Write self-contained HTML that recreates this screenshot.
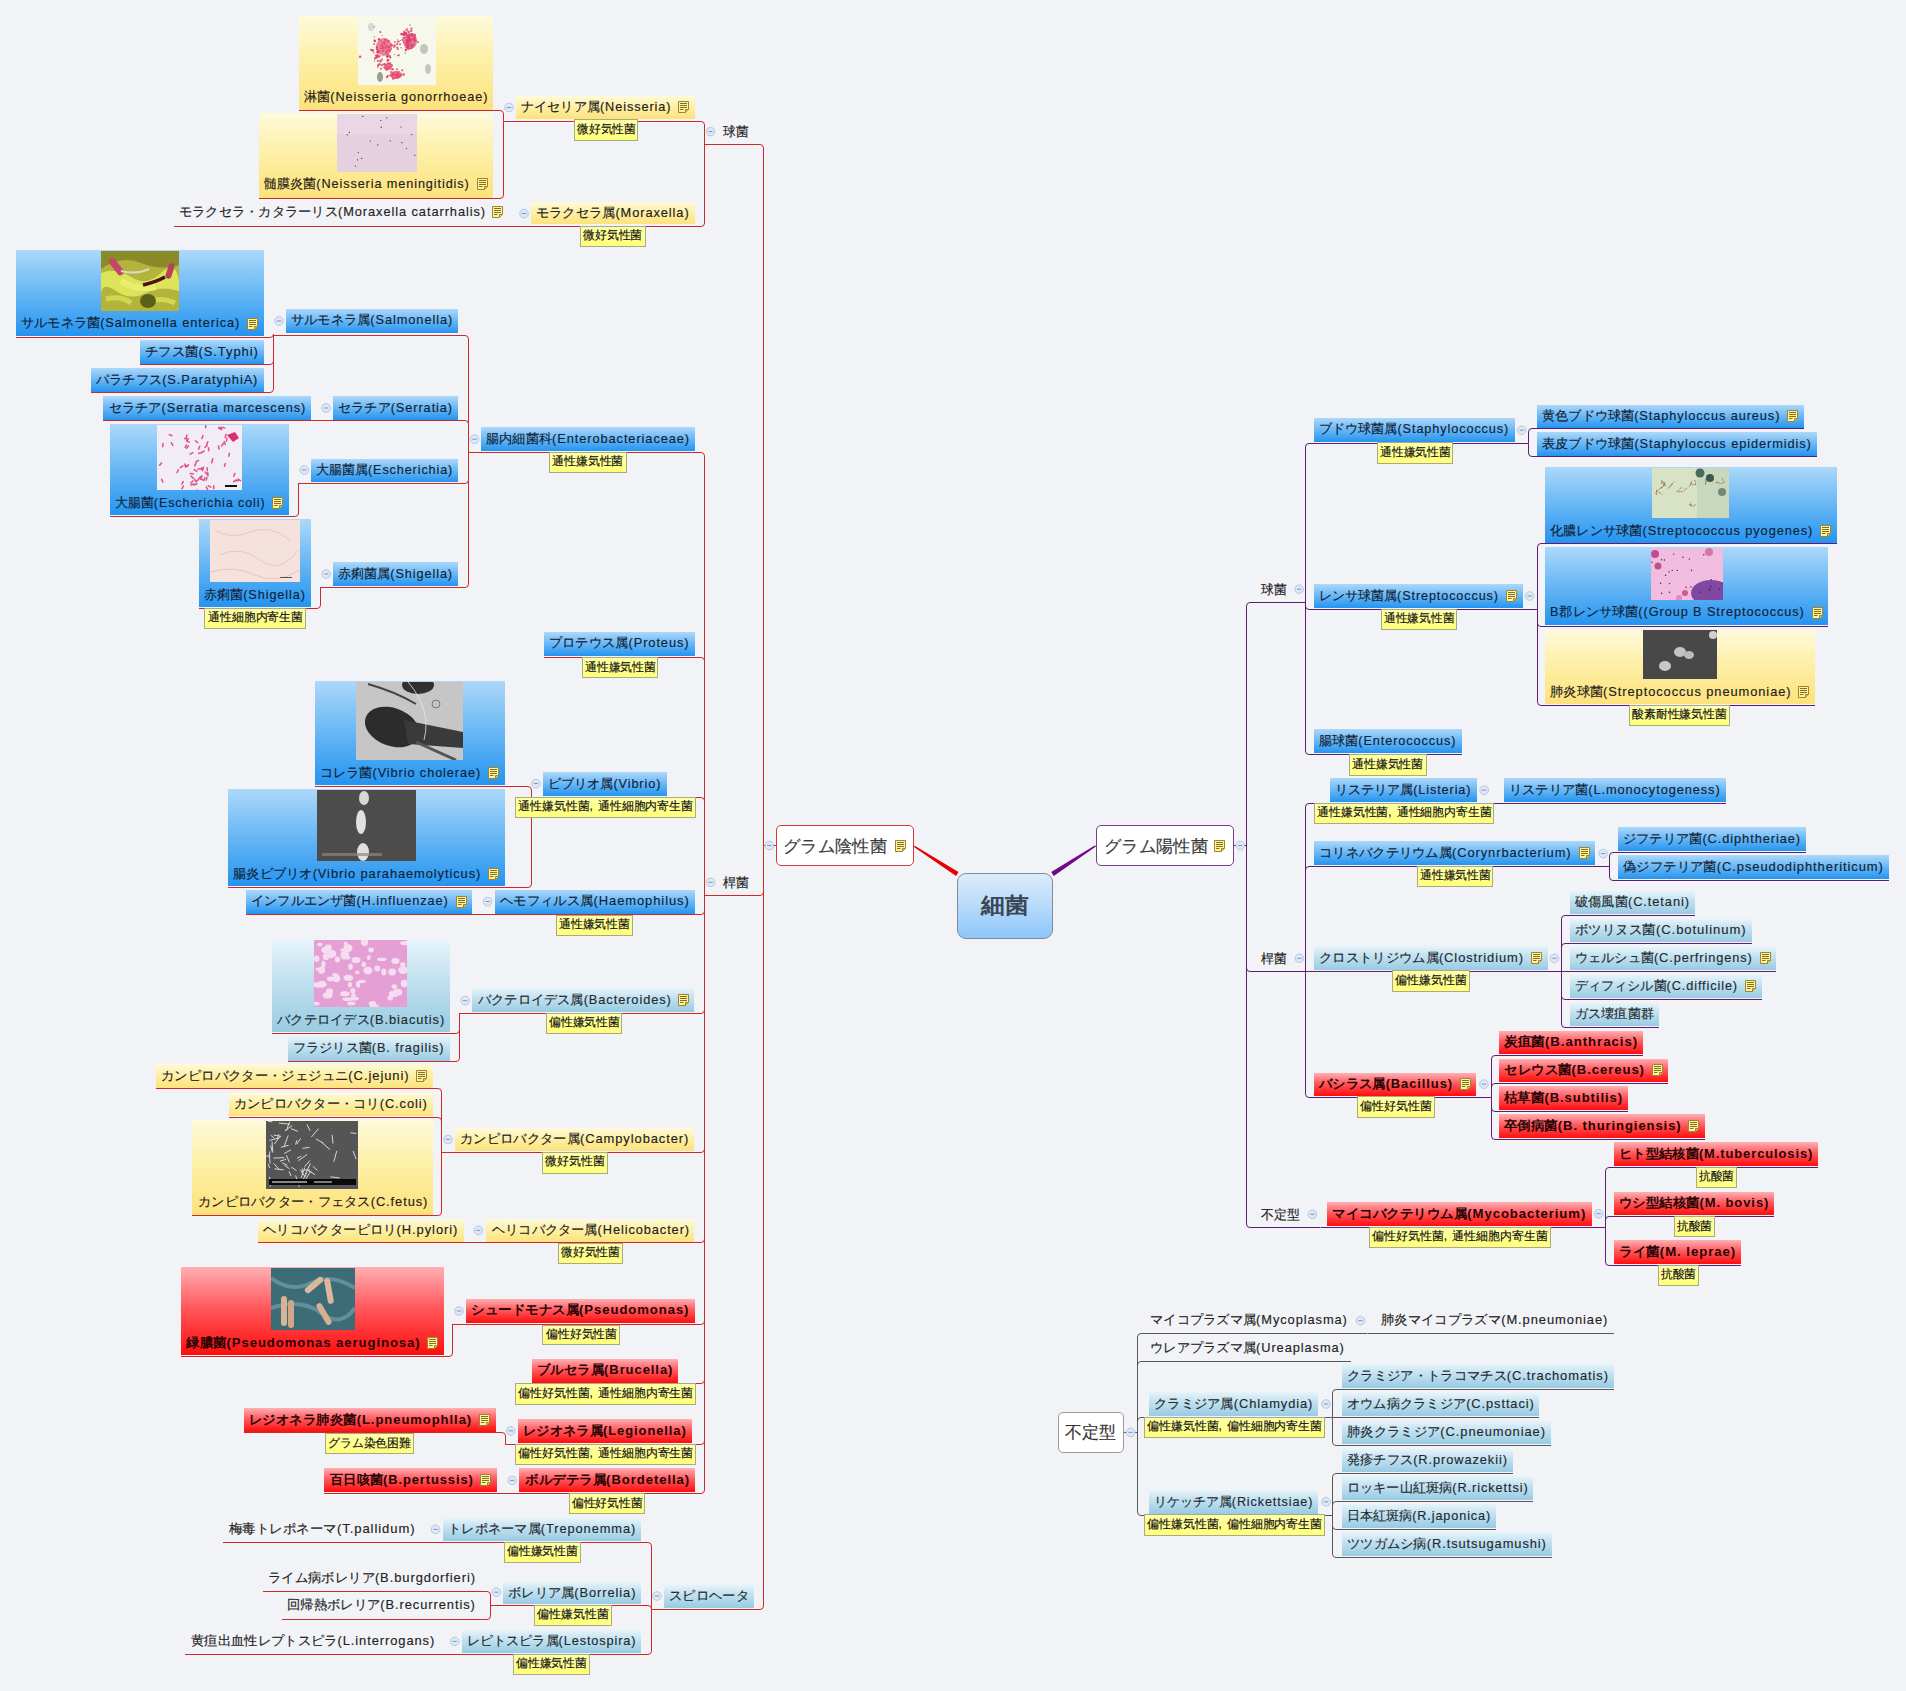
<!DOCTYPE html><html lang="ja"><head><meta charset="utf-8"><style>
html,body{margin:0;padding:0;width:1906px;height:1691px;overflow:hidden;background:#f2f3f7;}body{position:relative;font-family:"Liberation Sans",sans-serif;}.bx,.lb,.mn,.ct,.im,.nt,.tx,.ci{position:absolute;}.lb{background:linear-gradient(to bottom,#ffffa8,#ffff78);border:1px solid #a8a88a;}.mn{background:#fff;border:1.3px solid;border-radius:5px;box-sizing:border-box;}.ct{background:linear-gradient(to bottom,#dcecfc 0%,#b8dafa 50%,#8cc6f8 100%);border:1px solid #7d8c9c;border-radius:9px;box-sizing:border-box;}.tx{white-space:nowrap;transform-origin:0 50%;-webkit-text-stroke:0.15px currentColor;}svg.ln{position:absolute;left:0;top:0;}.l{letter-spacing:0.9px;}
</style></head><body>
<svg class="ln" width="1906" height="1691" viewBox="0 0 1906 1691"><path d="M776 845.5H763" stroke="#d02828" stroke-width="1.0" fill="none"/><path d="M763.5 846.5V148.0Q763.5 144.5 760.0 144.5H704.0" stroke="#d02828" stroke-width="1.0" fill="none"/><path d="M763.5 846.5V892.0Q763.5 895.5 760.0 895.5H704.0" stroke="#d02828" stroke-width="1.0" fill="none"/><path d="M763.5 846.5V1606.0Q763.5 1609.5 760.0 1609.5H652.0" stroke="#d02828" stroke-width="1.0" fill="none"/><path d="M704.5 144.5V125.0Q704.5 121.5 701.0 121.5H504.0" stroke="#d02828" stroke-width="1.0" fill="none"/><path d="M704.5 144.5V223.0Q704.5 226.5 701.0 226.5H517.0" stroke="#d02828" stroke-width="1.0" fill="none"/><path d="M503.5 121.5V114.0Q503.5 110.5 500.0 110.5H299.0" stroke="#d02828" stroke-width="1.0" fill="none"/><path d="M503.5 121.5V195.0Q503.5 198.5 500.0 198.5H259.0" stroke="#d02828" stroke-width="1.0" fill="none"/><path d="M517.5 226.5H174.0" stroke="#d02828" stroke-width="1.0" fill="none"/><path d="M704.5 895.5V456.0Q704.5 452.5 701.0 452.5H468.0" stroke="#d02828" stroke-width="1.0" fill="none"/><path d="M704.5 895.5V661.0Q704.5 657.5 701.0 657.5H544.0" stroke="#d02828" stroke-width="1.0" fill="none"/><path d="M704.5 895.5V801.0Q704.5 797.5 701.0 797.5H531.0" stroke="#d02828" stroke-width="1.0" fill="none"/><path d="M704.5 895.5V911.0Q704.5 914.5 701.0 914.5H480.0" stroke="#d02828" stroke-width="1.0" fill="none"/><path d="M704.5 895.5V1010.0Q704.5 1013.5 701.0 1013.5H459.0" stroke="#d02828" stroke-width="1.0" fill="none"/><path d="M704.5 895.5V1149.0Q704.5 1152.5 701.0 1152.5H441.0" stroke="#d02828" stroke-width="1.0" fill="none"/><path d="M704.5 895.5V1239.0Q704.5 1242.5 701.0 1242.5H470.0" stroke="#d02828" stroke-width="1.0" fill="none"/><path d="M704.5 895.5V1321.0Q704.5 1324.5 701.0 1324.5H452.0" stroke="#d02828" stroke-width="1.0" fill="none"/><path d="M704.5 895.5V1380.0Q704.5 1383.5 701.0 1383.5H532.0" stroke="#d02828" stroke-width="1.0" fill="none"/><path d="M704.5 895.5V1441.0Q704.5 1444.5 701.0 1444.5H505.0" stroke="#d02828" stroke-width="1.0" fill="none"/><path d="M704.5 895.5V1490.0Q704.5 1493.5 701.0 1493.5H505.0" stroke="#d02828" stroke-width="1.0" fill="none"/><path d="M468.5 452.5V339.0Q468.5 335.5 465.0 335.5H273.0" stroke="#d02828" stroke-width="1.0" fill="none"/><path d="M468.5 452.5V424.0Q468.5 420.5 465.0 420.5H318.0" stroke="#d02828" stroke-width="1.0" fill="none"/><path d="M468.5 452.5V480.0Q468.5 483.5 465.0 483.5H298.0" stroke="#d02828" stroke-width="1.0" fill="none"/><path d="M468.5 452.5V584.0Q468.5 587.5 465.0 587.5H320.0" stroke="#d02828" stroke-width="1.0" fill="none"/><path d="M273.5 335.5V334.0Q273.5 337.5 270.0 337.5H16.0" stroke="#d02828" stroke-width="1.0" fill="none"/><path d="M273.5 335.5V361.0Q273.5 364.5 270.0 364.5H140.0" stroke="#d02828" stroke-width="1.0" fill="none"/><path d="M273.5 335.5V389.0Q273.5 392.5 270.0 392.5H91.0" stroke="#d02828" stroke-width="1.0" fill="none"/><path d="M318.5 420.5H103.0" stroke="#d02828" stroke-width="1.0" fill="none"/><path d="M298.5 483.5V513.0Q298.5 516.5 295.0 516.5H110.0" stroke="#d02828" stroke-width="1.0" fill="none"/><path d="M320.5 587.5V605.0Q320.5 608.5 317.0 608.5H199.0" stroke="#d02828" stroke-width="1.0" fill="none"/><path d="M531.5 797.5V790.0Q531.5 786.5 528.0 786.5H315.0" stroke="#d02828" stroke-width="1.0" fill="none"/><path d="M531.5 797.5V884.0Q531.5 887.5 528.0 887.5H228.0" stroke="#d02828" stroke-width="1.0" fill="none"/><path d="M480.5 914.5H246.0" stroke="#d02828" stroke-width="1.0" fill="none"/><path d="M459.5 1013.5V1030.0Q459.5 1033.5 456.0 1033.5H272.0" stroke="#d02828" stroke-width="1.0" fill="none"/><path d="M459.5 1013.5V1058.0Q459.5 1061.5 456.0 1061.5H288.0" stroke="#d02828" stroke-width="1.0" fill="none"/><path d="M441.5 1152.5V1092.0Q441.5 1088.5 438.0 1088.5H156.0" stroke="#d02828" stroke-width="1.0" fill="none"/><path d="M441.5 1152.5V1121.0Q441.5 1117.5 438.0 1117.5H229.0" stroke="#d02828" stroke-width="1.0" fill="none"/><path d="M441.5 1152.5V1212.0Q441.5 1215.5 438.0 1215.5H192.0" stroke="#d02828" stroke-width="1.0" fill="none"/><path d="M470.5 1242.5H258.0" stroke="#d02828" stroke-width="1.0" fill="none"/><path d="M452.5 1324.5V1353.0Q452.5 1356.5 449.0 1356.5H181.0" stroke="#d02828" stroke-width="1.0" fill="none"/><path d="M505.5 1444.5V1436.0Q505.5 1432.5 502.0 1432.5H244.0" stroke="#d02828" stroke-width="1.0" fill="none"/><path d="M505.5 1493.5H324.0" stroke="#d02828" stroke-width="1.0" fill="none"/><path d="M651.5 1609.5V1546.0Q651.5 1542.5 648.0 1542.5H428.0" stroke="#d02828" stroke-width="1.0" fill="none"/><path d="M651.5 1609.5V1609.0Q651.5 1605.5 648.0 1605.5H490.0" stroke="#d02828" stroke-width="1.0" fill="none"/><path d="M651.5 1609.5V1651.0Q651.5 1654.5 648.0 1654.5H447.0" stroke="#d02828" stroke-width="1.0" fill="none"/><path d="M428.5 1542.5H223.0" stroke="#d02828" stroke-width="1.0" fill="none"/><path d="M490.5 1605.5V1595.0Q490.5 1591.5 487.0 1591.5H263.0" stroke="#d02828" stroke-width="1.0" fill="none"/><path d="M490.5 1605.5V1616.0Q490.5 1619.5 487.0 1619.5H282.0" stroke="#d02828" stroke-width="1.0" fill="none"/><path d="M447.5 1654.5H185.0" stroke="#d02828" stroke-width="1.0" fill="none"/><path d="M1233 845.5H1246.5" stroke="#5e1d70" stroke-width="1.0" fill="none"/><path d="M1246.5 845.5V606.0Q1246.5 602.5 1250.0 602.5H1306.0" stroke="#5e1d70" stroke-width="1.0" fill="none"/><path d="M1246.5 845.5V968.0Q1246.5 971.5 1250.0 971.5H1306.0" stroke="#5e1d70" stroke-width="1.0" fill="none"/><path d="M1246.5 845.5V1224.0Q1246.5 1227.5 1250.0 1227.5H1320.0" stroke="#5e1d70" stroke-width="1.0" fill="none"/><path d="M1305.5 602.5V447.0Q1305.5 443.5 1309.0 443.5H1528.0" stroke="#5e1d70" stroke-width="1.0" fill="none"/><path d="M1305.5 602.5V606.0Q1305.5 609.5 1309.0 609.5H1537.0" stroke="#5e1d70" stroke-width="1.0" fill="none"/><path d="M1305.5 602.5V751.0Q1305.5 754.5 1309.0 754.5H1462.0" stroke="#5e1d70" stroke-width="1.0" fill="none"/><path d="M1528.5 443.5V432.0Q1528.5 428.5 1532.0 428.5H1804.0" stroke="#5e1d70" stroke-width="1.0" fill="none"/><path d="M1528.5 443.5V453.0Q1528.5 456.5 1532.0 456.5H1817.0" stroke="#5e1d70" stroke-width="1.0" fill="none"/><path d="M1537.5 609.5V547.0Q1537.5 543.5 1541.0 543.5H1837.0" stroke="#5e1d70" stroke-width="1.0" fill="none"/><path d="M1537.5 609.5V623.0Q1537.5 626.5 1541.0 626.5H1828.0" stroke="#5e1d70" stroke-width="1.0" fill="none"/><path d="M1537.5 609.5V702.0Q1537.5 705.5 1541.0 705.5H1815.0" stroke="#5e1d70" stroke-width="1.0" fill="none"/><path d="M1305.5 971.5V807.0Q1305.5 803.5 1309.0 803.5H1491.0" stroke="#5e1d70" stroke-width="1.0" fill="none"/><path d="M1305.5 971.5V870.0Q1305.5 866.5 1309.0 866.5H1610.0" stroke="#5e1d70" stroke-width="1.0" fill="none"/><path d="M1305.5 971.5H1562.0" stroke="#5e1d70" stroke-width="1.0" fill="none"/><path d="M1305.5 971.5V1094.0Q1305.5 1097.5 1309.0 1097.5H1491.0" stroke="#5e1d70" stroke-width="1.0" fill="none"/><path d="M1491.5 803.5H1726.0" stroke="#5e1d70" stroke-width="1.0" fill="none"/><path d="M1609.5 866.5V856.0Q1609.5 852.5 1613.0 852.5H1806.0" stroke="#5e1d70" stroke-width="1.0" fill="none"/><path d="M1609.5 866.5V877.0Q1609.5 880.5 1613.0 880.5H1889.0" stroke="#5e1d70" stroke-width="1.0" fill="none"/><path d="M1561.5 971.5V919.0Q1561.5 915.5 1565.0 915.5H1695.0" stroke="#5e1d70" stroke-width="1.0" fill="none"/><path d="M1561.5 971.5V947.0Q1561.5 943.5 1565.0 943.5H1752.0" stroke="#5e1d70" stroke-width="1.0" fill="none"/><path d="M1561.5 971.5H1776.0" stroke="#5e1d70" stroke-width="1.0" fill="none"/><path d="M1561.5 971.5V996.0Q1561.5 999.5 1565.0 999.5H1762.0" stroke="#5e1d70" stroke-width="1.0" fill="none"/><path d="M1561.5 971.5V1024.0Q1561.5 1027.5 1565.0 1027.5H1659.0" stroke="#5e1d70" stroke-width="1.0" fill="none"/><path d="M1491.5 1097.5V1059.0Q1491.5 1055.5 1495.0 1055.5H1643.0" stroke="#5e1d70" stroke-width="1.0" fill="none"/><path d="M1491.5 1097.5V1087.0Q1491.5 1083.5 1495.0 1083.5H1668.0" stroke="#5e1d70" stroke-width="1.0" fill="none"/><path d="M1491.5 1097.5V1108.0Q1491.5 1111.5 1495.0 1111.5H1628.0" stroke="#5e1d70" stroke-width="1.0" fill="none"/><path d="M1491.5 1097.5V1136.0Q1491.5 1139.5 1495.0 1139.5H1705.0" stroke="#5e1d70" stroke-width="1.0" fill="none"/><path d="M1320.5 1227.5H1605.0" stroke="#5e1d70" stroke-width="1.0" fill="none"/><path d="M1605.5 1227.5V1171.0Q1605.5 1167.5 1609.0 1167.5H1818.0" stroke="#5e1d70" stroke-width="1.0" fill="none"/><path d="M1605.5 1227.5V1220.0Q1605.5 1216.5 1609.0 1216.5H1774.0" stroke="#5e1d70" stroke-width="1.0" fill="none"/><path d="M1605.5 1227.5V1262.0Q1605.5 1265.5 1609.0 1265.5H1741.0" stroke="#5e1d70" stroke-width="1.0" fill="none"/><path d="M1123 1432.5H1137.5" stroke="#585858" stroke-width="1.0" fill="none"/><path d="M1137.5 1432.5V1337.0Q1137.5 1333.5 1141.0 1333.5H1367.0" stroke="#585858" stroke-width="1.0" fill="none"/><path d="M1137.5 1432.5V1365.0Q1137.5 1361.5 1141.0 1361.5H1351.0" stroke="#585858" stroke-width="1.0" fill="none"/><path d="M1137.5 1432.5V1421.0Q1137.5 1417.5 1141.0 1417.5H1332.0" stroke="#585858" stroke-width="1.0" fill="none"/><path d="M1137.5 1432.5V1512.0Q1137.5 1515.5 1141.0 1515.5H1332.0" stroke="#585858" stroke-width="1.0" fill="none"/><path d="M1367.5 1333.5H1614.0" stroke="#585858" stroke-width="1.0" fill="none"/><path d="M1332.5 1417.5V1393.0Q1332.5 1389.5 1336.0 1389.5H1614.0" stroke="#585858" stroke-width="1.0" fill="none"/><path d="M1332.5 1417.5H1539.0" stroke="#585858" stroke-width="1.0" fill="none"/><path d="M1332.5 1417.5V1442.0Q1332.5 1445.5 1336.0 1445.5H1551.0" stroke="#585858" stroke-width="1.0" fill="none"/><path d="M1332.5 1515.5V1477.0Q1332.5 1473.5 1336.0 1473.5H1513.0" stroke="#585858" stroke-width="1.0" fill="none"/><path d="M1332.5 1515.5V1505.0Q1332.5 1501.5 1336.0 1501.5H1533.0" stroke="#585858" stroke-width="1.0" fill="none"/><path d="M1332.5 1515.5V1526.0Q1332.5 1529.5 1336.0 1529.5H1496.0" stroke="#585858" stroke-width="1.0" fill="none"/><path d="M1332.5 1515.5V1554.0Q1332.5 1557.5 1336.0 1557.5H1552.0" stroke="#585858" stroke-width="1.0" fill="none"/><path d="M913.9 847.0L914.7 845.8L958.5 872.1L956.1 875.9Z" fill="#e40000"/><path d="M1095.9 846.5L1095.1 845.3L1051.2 872.1L1053.8 875.9Z" fill="#6e0a86"/><circle cx="769.3" cy="845.5" r="4.3" fill="#dfe8f7" stroke="#b4c6e2" stroke-width="1"/><path d="M767.1 845.5H771.5" stroke="#7f93c0" stroke-width="1"/><circle cx="710.6" cy="131.6" r="4.3" fill="#dfe8f7" stroke="#b4c6e2" stroke-width="1"/><path d="M708.4 131.6H712.8" stroke="#7f93c0" stroke-width="1"/><circle cx="509.0" cy="107.5" r="4.3" fill="#dfe8f7" stroke="#b4c6e2" stroke-width="1"/><path d="M506.8 107.5H511.2" stroke="#7f93c0" stroke-width="1"/><circle cx="524.0" cy="213.5" r="4.3" fill="#dfe8f7" stroke="#b4c6e2" stroke-width="1"/><path d="M521.8 213.5H526.2" stroke="#7f93c0" stroke-width="1"/><circle cx="710.6" cy="882.3" r="4.3" fill="#dfe8f7" stroke="#b4c6e2" stroke-width="1"/><path d="M708.4 882.3H712.8" stroke="#7f93c0" stroke-width="1"/><circle cx="474.5" cy="439.2" r="4.3" fill="#dfe8f7" stroke="#b4c6e2" stroke-width="1"/><path d="M472.3 439.2H476.7" stroke="#7f93c0" stroke-width="1"/><circle cx="279.0" cy="321.0" r="4.3" fill="#dfe8f7" stroke="#b4c6e2" stroke-width="1"/><path d="M276.8 321.0H281.2" stroke="#7f93c0" stroke-width="1"/><circle cx="326.0" cy="408.0" r="4.3" fill="#dfe8f7" stroke="#b4c6e2" stroke-width="1"/><path d="M323.8 408.0H328.2" stroke="#7f93c0" stroke-width="1"/><circle cx="304.3" cy="470.0" r="4.3" fill="#dfe8f7" stroke="#b4c6e2" stroke-width="1"/><path d="M302.1 470.0H306.5" stroke="#7f93c0" stroke-width="1"/><circle cx="326.2" cy="574.0" r="4.3" fill="#dfe8f7" stroke="#b4c6e2" stroke-width="1"/><path d="M324.0 574.0H328.4" stroke="#7f93c0" stroke-width="1"/><circle cx="536.0" cy="783.6" r="4.3" fill="#dfe8f7" stroke="#b4c6e2" stroke-width="1"/><path d="M533.8 783.6H538.2" stroke="#7f93c0" stroke-width="1"/><circle cx="487.6" cy="901.5" r="4.3" fill="#dfe8f7" stroke="#b4c6e2" stroke-width="1"/><path d="M485.4 901.5H489.8" stroke="#7f93c0" stroke-width="1"/><circle cx="465.0" cy="1000.6" r="4.3" fill="#dfe8f7" stroke="#b4c6e2" stroke-width="1"/><path d="M462.8 1000.6H467.2" stroke="#7f93c0" stroke-width="1"/><circle cx="448.0" cy="1139.4" r="4.3" fill="#dfe8f7" stroke="#b4c6e2" stroke-width="1"/><path d="M445.8 1139.4H450.2" stroke="#7f93c0" stroke-width="1"/><circle cx="478.4" cy="1230.4" r="4.3" fill="#dfe8f7" stroke="#b4c6e2" stroke-width="1"/><path d="M476.2 1230.4H480.6" stroke="#7f93c0" stroke-width="1"/><circle cx="459.0" cy="1311.0" r="4.3" fill="#dfe8f7" stroke="#b4c6e2" stroke-width="1"/><path d="M456.8 1311.0H461.2" stroke="#7f93c0" stroke-width="1"/><circle cx="510.8" cy="1430.8" r="4.3" fill="#dfe8f7" stroke="#b4c6e2" stroke-width="1"/><path d="M508.6 1430.8H513.0" stroke="#7f93c0" stroke-width="1"/><circle cx="512.2" cy="1480.4" r="4.3" fill="#dfe8f7" stroke="#b4c6e2" stroke-width="1"/><path d="M510.0 1480.4H514.4" stroke="#7f93c0" stroke-width="1"/><circle cx="657.0" cy="1596.0" r="4.3" fill="#dfe8f7" stroke="#b4c6e2" stroke-width="1"/><path d="M654.8 1596.0H659.2" stroke="#7f93c0" stroke-width="1"/><circle cx="435.6" cy="1529.4" r="4.3" fill="#dfe8f7" stroke="#b4c6e2" stroke-width="1"/><path d="M433.4 1529.4H437.8" stroke="#7f93c0" stroke-width="1"/><circle cx="496.4" cy="1592.2" r="4.3" fill="#dfe8f7" stroke="#b4c6e2" stroke-width="1"/><path d="M494.2 1592.2H498.6" stroke="#7f93c0" stroke-width="1"/><circle cx="454.8" cy="1641.4" r="4.3" fill="#dfe8f7" stroke="#b4c6e2" stroke-width="1"/><path d="M452.6 1641.4H457.0" stroke="#7f93c0" stroke-width="1"/><circle cx="1240.2" cy="845.5" r="4.3" fill="#dfe8f7" stroke="#b4c6e2" stroke-width="1"/><path d="M1238.0 845.5H1242.4" stroke="#7f93c0" stroke-width="1"/><circle cx="1299.2" cy="589.2" r="4.3" fill="#dfe8f7" stroke="#b4c6e2" stroke-width="1"/><path d="M1297.0 589.2H1301.4" stroke="#7f93c0" stroke-width="1"/><circle cx="1521.6" cy="430.2" r="4.3" fill="#dfe8f7" stroke="#b4c6e2" stroke-width="1"/><path d="M1519.4 430.2H1523.8" stroke="#7f93c0" stroke-width="1"/><circle cx="1529.6" cy="596.0" r="4.3" fill="#dfe8f7" stroke="#b4c6e2" stroke-width="1"/><path d="M1527.4 596.0H1531.8" stroke="#7f93c0" stroke-width="1"/><circle cx="1299.4" cy="958.3" r="4.3" fill="#dfe8f7" stroke="#b4c6e2" stroke-width="1"/><path d="M1297.2 958.3H1301.6" stroke="#7f93c0" stroke-width="1"/><circle cx="1484.2" cy="790.2" r="4.3" fill="#dfe8f7" stroke="#b4c6e2" stroke-width="1"/><path d="M1482.0 790.2H1486.4" stroke="#7f93c0" stroke-width="1"/><circle cx="1603.2" cy="853.6" r="4.3" fill="#dfe8f7" stroke="#b4c6e2" stroke-width="1"/><path d="M1601.0 853.6H1605.4" stroke="#7f93c0" stroke-width="1"/><circle cx="1554.5" cy="958.3" r="4.3" fill="#dfe8f7" stroke="#b4c6e2" stroke-width="1"/><path d="M1552.3 958.3H1556.7" stroke="#7f93c0" stroke-width="1"/><circle cx="1483.9" cy="1084.1" r="4.3" fill="#dfe8f7" stroke="#b4c6e2" stroke-width="1"/><path d="M1481.7 1084.1H1486.1" stroke="#7f93c0" stroke-width="1"/><circle cx="1312.4" cy="1214.3" r="4.3" fill="#dfe8f7" stroke="#b4c6e2" stroke-width="1"/><path d="M1310.2 1214.3H1314.6" stroke="#7f93c0" stroke-width="1"/><circle cx="1598.8" cy="1213.7" r="4.3" fill="#dfe8f7" stroke="#b4c6e2" stroke-width="1"/><path d="M1596.6 1213.7H1601.0" stroke="#7f93c0" stroke-width="1"/><circle cx="1130.6" cy="1432.4" r="4.3" fill="#dfe8f7" stroke="#b4c6e2" stroke-width="1"/><path d="M1128.4 1432.4H1132.8" stroke="#7f93c0" stroke-width="1"/><circle cx="1360.4" cy="1320.7" r="4.3" fill="#dfe8f7" stroke="#b4c6e2" stroke-width="1"/><path d="M1358.2 1320.7H1362.6" stroke="#7f93c0" stroke-width="1"/><circle cx="1326.0" cy="1404.0" r="4.3" fill="#dfe8f7" stroke="#b4c6e2" stroke-width="1"/><path d="M1323.8 1404.0H1328.2" stroke="#7f93c0" stroke-width="1"/><circle cx="1326.0" cy="1501.8" r="4.3" fill="#dfe8f7" stroke="#b4c6e2" stroke-width="1"/><path d="M1323.8 1501.8H1328.2" stroke="#7f93c0" stroke-width="1"/></svg>
<div class="mn" style="left:776px;top:825px;width:138px;height:41px;border-color:#d83a3a"></div>
<svg class="nt" style="left:895px;top:840px" width="12" height="13" viewBox="0 0 12 13"><path d="M0.5 0.5H10.5V8.5L7.5 11.5H0.5Z" fill="#fff2a0" stroke="#a08428" stroke-width="1"/><path d="M2 2.5H9M2 4.5H9M2 6.5H9M2 8.5H5.5" stroke="#807020" stroke-width="1"/><path d="M7.5 11.5V8.5H10.5" fill="#e0c860" stroke="#a08428" stroke-width="1"/></svg>
<div class="bx" style="left:516px;top:96px;width:179px;height:23px;background:linear-gradient(to bottom,#fefadc 0%,#fdf0a8 45%,#fde27c 100%)"></div>
<svg class="nt" style="left:678px;top:101px" width="12" height="13" viewBox="0 0 12 13"><path d="M0.5 0.5H10.5V8.5L7.5 11.5H0.5Z" fill="#fff2a0" stroke="#a08428" stroke-width="1"/><path d="M2 2.5H9M2 4.5H9M2 6.5H9M2 8.5H5.5" stroke="#807020" stroke-width="1"/><path d="M7.5 11.5V8.5H10.5" fill="#e0c860" stroke="#a08428" stroke-width="1"/></svg>
<div class="lb" style="left:574px;top:119px;width:62px;height:20px"></div>
<div class="bx" style="left:299px;top:16px;width:194px;height:94px;background:linear-gradient(to bottom,#fefadc 0%,#fdf0a8 45%,#fde27c 100%)"></div>
<svg class="im" style="left:358px;top:17px" width="78" height="68" viewBox="0 0 78 68" preserveAspectRatio="none"><rect width="78" height="68" fill="#f6f8ee"/><circle cx="16.9" cy="24.0" r="1.2" fill="#d83058" opacity=".8"/><circle cx="33.2" cy="27.9" r="1.3" fill="#d83058" opacity=".8"/><circle cx="30.6" cy="33.4" r="1.4" fill="#d83058" opacity=".8"/><circle cx="16.3" cy="19.9" r="0.7" fill="#d83058" opacity=".8"/><circle cx="19.6" cy="33.0" r="1.0" fill="#d83058" opacity=".8"/><circle cx="23.1" cy="31.5" r="0.8" fill="#d83058" opacity=".8"/><circle cx="21.5" cy="47.3" r="1.2" fill="#d83058" opacity=".8"/><circle cx="29.8" cy="42.5" r="0.7" fill="#d83058" opacity=".8"/><circle cx="21.7" cy="29.5" r="0.6" fill="#d83058" opacity=".8"/><circle cx="26.8" cy="28.5" r="0.8" fill="#d83058" opacity=".8"/><circle cx="36.1" cy="30.4" r="0.8" fill="#d83058" opacity=".8"/><circle cx="31.3" cy="29.9" r="1.1" fill="#d83058" opacity=".8"/><circle cx="28.0" cy="48.0" r="1.2" fill="#d83058" opacity=".8"/><circle cx="36.4" cy="28.9" r="0.8" fill="#d83058" opacity=".8"/><circle cx="21.7" cy="35.2" r="0.7" fill="#d83058" opacity=".8"/><circle cx="28.7" cy="34.4" r="1.1" fill="#d83058" opacity=".8"/><circle cx="33.0" cy="32.2" r="0.9" fill="#d83058" opacity=".8"/><circle cx="19.9" cy="44.0" r="1.0" fill="#d83058" opacity=".8"/><circle cx="21.2" cy="39.3" r="1.2" fill="#d83058" opacity=".8"/><circle cx="39.3" cy="38.7" r="0.6" fill="#d83058" opacity=".8"/><circle cx="24.0" cy="18.5" r="0.6" fill="#d83058" opacity=".8"/><circle cx="25.3" cy="25.5" r="1.1" fill="#d83058" opacity=".8"/><circle cx="25.9" cy="32.1" r="0.7" fill="#d83058" opacity=".8"/><circle cx="27.8" cy="30.7" r="1.2" fill="#d83058" opacity=".8"/><circle cx="36.9" cy="24.9" r="0.9" fill="#d83058" opacity=".8"/><circle cx="19.5" cy="38.8" r="1.2" fill="#d83058" opacity=".8"/><circle cx="31.8" cy="39.3" r="1.2" fill="#d83058" opacity=".8"/><circle cx="25.0" cy="30.5" r="1.4" fill="#d83058" opacity=".8"/><circle cx="28.6" cy="35.5" r="1.1" fill="#d83058" opacity=".8"/><circle cx="28.8" cy="28.9" r="1.3" fill="#d83058" opacity=".8"/><circle cx="19.0" cy="30.3" r="0.9" fill="#d83058" opacity=".8"/><circle cx="25.1" cy="34.5" r="0.7" fill="#d83058" opacity=".8"/><circle cx="16.4" cy="10.0" r="0.7" fill="#d83058" opacity=".8"/><circle cx="40.8" cy="38.2" r="1.0" fill="#d83058" opacity=".8"/><circle cx="20.3" cy="34.9" r="1.1" fill="#d83058" opacity=".8"/><circle cx="27.1" cy="25.1" r="0.9" fill="#d83058" opacity=".8"/><circle cx="36.5" cy="37.3" r="0.6" fill="#d83058" opacity=".8"/><circle cx="12.6" cy="32.5" r="0.7" fill="#d83058" opacity=".8"/><circle cx="22.3" cy="15.0" r="1.1" fill="#d83058" opacity=".8"/><circle cx="24.7" cy="28.8" r="0.9" fill="#d83058" opacity=".8"/><circle cx="30.9" cy="42.9" r="0.8" fill="#d83058" opacity=".8"/><circle cx="2.1" cy="39.7" r="1.3" fill="#d83058" opacity=".8"/><circle cx="30.5" cy="30.8" r="1.0" fill="#d83058" opacity=".8"/><circle cx="23.1" cy="24.1" r="0.8" fill="#d83058" opacity=".8"/><circle cx="21.2" cy="34.2" r="0.9" fill="#d83058" opacity=".8"/><circle cx="39.2" cy="30.7" r="1.1" fill="#d83058" opacity=".8"/><circle cx="18.5" cy="32.0" r="0.7" fill="#d83058" opacity=".8"/><circle cx="22.5" cy="44.1" r="1.3" fill="#d83058" opacity=".8"/><circle cx="17.2" cy="41.4" r="1.2" fill="#d83058" opacity=".8"/><circle cx="21.0" cy="22.3" r="1.2" fill="#d83058" opacity=".8"/><circle cx="17.9" cy="40.3" r="0.8" fill="#d83058" opacity=".8"/><circle cx="13.8" cy="33.1" r="1.2" fill="#d83058" opacity=".8"/><circle cx="20.1" cy="48.3" r="1.1" fill="#d83058" opacity=".8"/><circle cx="23.2" cy="31.5" r="1.0" fill="#d83058" opacity=".8"/><circle cx="24.0" cy="42.4" r="1.0" fill="#d83058" opacity=".8"/><circle cx="27.5" cy="22.8" r="1.2" fill="#d83058" opacity=".8"/><circle cx="19.0" cy="40.2" r="1.2" fill="#d83058" opacity=".8"/><circle cx="26.6" cy="26.3" r="1.3" fill="#d83058" opacity=".8"/><circle cx="30.3" cy="24.2" r="1.4" fill="#d83058" opacity=".8"/><circle cx="31.0" cy="29.7" r="1.0" fill="#d83058" opacity=".8"/><circle cx="29.7" cy="43.5" r="1.3" fill="#d83058" opacity=".8"/><circle cx="14.9" cy="33.5" r="1.2" fill="#d83058" opacity=".8"/><circle cx="23.5" cy="27.7" r="1.2" fill="#d83058" opacity=".8"/><circle cx="16.2" cy="27.0" r="0.9" fill="#d83058" opacity=".8"/><circle cx="16.6" cy="23.5" r="1.1" fill="#d83058" opacity=".8"/><circle cx="23.7" cy="30.4" r="0.7" fill="#d83058" opacity=".8"/><circle cx="15.9" cy="35.7" r="0.8" fill="#d83058" opacity=".8"/><circle cx="20.7" cy="22.9" r="0.6" fill="#d83058" opacity=".8"/><circle cx="19.8" cy="32.9" r="0.6" fill="#d83058" opacity=".8"/><circle cx="27.5" cy="36.6" r="0.7" fill="#d83058" opacity=".8"/><circle cx="24.6" cy="33.8" r="1.0" fill="#d83058" opacity=".8"/><circle cx="18.0" cy="38.6" r="1.1" fill="#d83058" opacity=".8"/><circle cx="25.0" cy="47.1" r="0.6" fill="#d83058" opacity=".8"/><circle cx="20.0" cy="35.2" r="0.9" fill="#d83058" opacity=".8"/><circle cx="32.5" cy="40.7" r="0.9" fill="#d83058" opacity=".8"/><circle cx="32.1" cy="34.2" r="0.7" fill="#d83058" opacity=".8"/><circle cx="18.8" cy="30.2" r="1.1" fill="#d83058" opacity=".8"/><circle cx="34.7" cy="28.7" r="0.9" fill="#d83058" opacity=".8"/><circle cx="27.3" cy="22.7" r="0.9" fill="#d83058" opacity=".8"/><circle cx="29.1" cy="39.3" r="1.1" fill="#d83058" opacity=".8"/><circle cx="39.2" cy="27.1" r="1.1" fill="#d83058" opacity=".8"/><circle cx="16.5" cy="43.9" r="0.6" fill="#d83058" opacity=".8"/><circle cx="30.0" cy="37.7" r="1.1" fill="#d83058" opacity=".8"/><circle cx="29.4" cy="39.6" r="1.3" fill="#d83058" opacity=".8"/><circle cx="19.5" cy="37.2" r="0.8" fill="#d83058" opacity=".8"/><circle cx="19.9" cy="50.1" r="0.9" fill="#d83058" opacity=".8"/><circle cx="36.9" cy="28.3" r="1.1" fill="#d83058" opacity=".8"/><circle cx="23.0" cy="51.7" r="1.0" fill="#d83058" opacity=".8"/><circle cx="19.5" cy="35.1" r="1.4" fill="#d83058" opacity=".8"/><circle cx="19.1" cy="32.3" r="1.0" fill="#d83058" opacity=".8"/><circle cx="54.5" cy="28.3" r="1.0" fill="#d83058" opacity=".8"/><circle cx="47.9" cy="32.9" r="1.3" fill="#d83058" opacity=".8"/><circle cx="55.5" cy="22.7" r="0.8" fill="#d83058" opacity=".8"/><circle cx="57.2" cy="17.5" r="0.8" fill="#d83058" opacity=".8"/><circle cx="49.7" cy="25.7" r="1.4" fill="#d83058" opacity=".8"/><circle cx="48.3" cy="30.6" r="1.0" fill="#d83058" opacity=".8"/><circle cx="46.2" cy="15.0" r="1.2" fill="#d83058" opacity=".8"/><circle cx="55.6" cy="29.4" r="0.8" fill="#d83058" opacity=".8"/><circle cx="46.0" cy="20.8" r="0.8" fill="#d83058" opacity=".8"/><circle cx="45.1" cy="20.6" r="0.9" fill="#d83058" opacity=".8"/><circle cx="49.8" cy="13.3" r="0.6" fill="#d83058" opacity=".8"/><circle cx="49.9" cy="29.2" r="1.3" fill="#d83058" opacity=".8"/><circle cx="54.3" cy="16.7" r="0.6" fill="#d83058" opacity=".8"/><circle cx="50.8" cy="15.2" r="1.1" fill="#d83058" opacity=".8"/><circle cx="48.3" cy="13.1" r="1.0" fill="#d83058" opacity=".8"/><circle cx="53.8" cy="18.6" r="0.9" fill="#d83058" opacity=".8"/><circle cx="51.8" cy="18.6" r="0.8" fill="#d83058" opacity=".8"/><circle cx="50.8" cy="19.9" r="1.3" fill="#d83058" opacity=".8"/><circle cx="48.4" cy="15.5" r="0.8" fill="#d83058" opacity=".8"/><circle cx="51.9" cy="8.0" r="0.7" fill="#d83058" opacity=".8"/><circle cx="44.4" cy="23.1" r="1.0" fill="#d83058" opacity=".8"/><circle cx="48.7" cy="25.3" r="1.1" fill="#d83058" opacity=".8"/><circle cx="50.6" cy="19.7" r="0.8" fill="#d83058" opacity=".8"/><circle cx="53.4" cy="11.6" r="1.1" fill="#d83058" opacity=".8"/><circle cx="57.1" cy="23.7" r="1.4" fill="#d83058" opacity=".8"/><circle cx="57.0" cy="21.9" r="0.6" fill="#d83058" opacity=".8"/><circle cx="51.7" cy="18.2" r="1.1" fill="#d83058" opacity=".8"/><circle cx="56.8" cy="19.0" r="0.7" fill="#d83058" opacity=".8"/><circle cx="47.3" cy="36.0" r="0.7" fill="#d83058" opacity=".8"/><circle cx="46.4" cy="17.7" r="0.7" fill="#d83058" opacity=".8"/><circle cx="49.0" cy="20.7" r="0.7" fill="#d83058" opacity=".8"/><circle cx="48.7" cy="23.7" r="0.6" fill="#d83058" opacity=".8"/><circle cx="43.4" cy="17.1" r="1.3" fill="#d83058" opacity=".8"/><circle cx="53.2" cy="27.2" r="0.9" fill="#d83058" opacity=".8"/><circle cx="45.8" cy="17.6" r="1.4" fill="#d83058" opacity=".8"/><circle cx="48.9" cy="23.6" r="1.2" fill="#d83058" opacity=".8"/><circle cx="53.7" cy="29.5" r="1.0" fill="#d83058" opacity=".8"/><circle cx="54.8" cy="17.6" r="1.1" fill="#d83058" opacity=".8"/><circle cx="49.5" cy="30.2" r="0.8" fill="#d83058" opacity=".8"/><circle cx="50.0" cy="14.2" r="0.7" fill="#d83058" opacity=".8"/><circle cx="50.4" cy="28.2" r="1.2" fill="#d83058" opacity=".8"/><circle cx="53.1" cy="31.3" r="1.1" fill="#d83058" opacity=".8"/><circle cx="55.7" cy="26.9" r="0.7" fill="#d83058" opacity=".8"/><circle cx="54.3" cy="28.2" r="0.8" fill="#d83058" opacity=".8"/><circle cx="53.7" cy="16.8" r="0.9" fill="#d83058" opacity=".8"/><circle cx="50.3" cy="20.5" r="1.2" fill="#d83058" opacity=".8"/><circle cx="52.4" cy="23.2" r="1.4" fill="#d83058" opacity=".8"/><circle cx="48.7" cy="17.8" r="0.7" fill="#d83058" opacity=".8"/><circle cx="56.6" cy="20.4" r="1.3" fill="#d83058" opacity=".8"/><circle cx="54.0" cy="29.0" r="0.9" fill="#d83058" opacity=".8"/><circle cx="50.4" cy="27.8" r="1.1" fill="#d83058" opacity=".8"/><circle cx="47.4" cy="27.2" r="0.7" fill="#d83058" opacity=".8"/><circle cx="53.2" cy="13.8" r="1.2" fill="#d83058" opacity=".8"/><circle cx="42.0" cy="27.2" r="1.0" fill="#d83058" opacity=".8"/><circle cx="45.1" cy="17.3" r="1.2" fill="#d83058" opacity=".8"/><circle cx="48.4" cy="23.8" r="0.6" fill="#d83058" opacity=".8"/><circle cx="50.4" cy="23.8" r="1.3" fill="#d83058" opacity=".8"/><circle cx="42.4" cy="23.3" r="0.6" fill="#d83058" opacity=".8"/><circle cx="40.7" cy="24.5" r="1.1" fill="#d83058" opacity=".8"/><circle cx="45.5" cy="25.2" r="0.7" fill="#d83058" opacity=".8"/><circle cx="51.5" cy="25.2" r="0.9" fill="#d83058" opacity=".8"/><circle cx="43.0" cy="30.8" r="0.7" fill="#d83058" opacity=".8"/><circle cx="49.9" cy="27.2" r="0.7" fill="#d83058" opacity=".8"/><circle cx="49.2" cy="26.6" r="1.0" fill="#d83058" opacity=".8"/><circle cx="60.0" cy="25.0" r="0.9" fill="#d83058" opacity=".8"/><circle cx="56.4" cy="18.2" r="1.1" fill="#d83058" opacity=".8"/><circle cx="39.3" cy="24.8" r="0.7" fill="#d83058" opacity=".8"/><circle cx="48.2" cy="17.3" r="1.1" fill="#d83058" opacity=".8"/><circle cx="49.7" cy="18.2" r="0.8" fill="#d83058" opacity=".8"/><circle cx="53.2" cy="22.7" r="0.7" fill="#d83058" opacity=".8"/><circle cx="40.1" cy="32.2" r="0.9" fill="#d83058" opacity=".8"/><circle cx="48.1" cy="28.8" r="0.8" fill="#d83058" opacity=".8"/><circle cx="49.2" cy="11.7" r="0.7" fill="#d83058" opacity=".8"/><circle cx="50.4" cy="31.7" r="1.4" fill="#d83058" opacity=".8"/><circle cx="47.1" cy="16.5" r="1.4" fill="#d83058" opacity=".8"/><circle cx="51.6" cy="22.1" r="1.2" fill="#d83058" opacity=".8"/><circle cx="48.8" cy="23.1" r="1.0" fill="#d83058" opacity=".8"/><circle cx="55.4" cy="21.5" r="0.9" fill="#d83058" opacity=".8"/><circle cx="51.4" cy="23.4" r="1.3" fill="#d83058" opacity=".8"/><circle cx="39.5" cy="22.8" r="0.6" fill="#d83058" opacity=".8"/><circle cx="30.0" cy="50.8" r="0.9" fill="#d83058" opacity=".8"/><circle cx="32.1" cy="50.7" r="0.9" fill="#d83058" opacity=".8"/><circle cx="29.7" cy="50.8" r="0.6" fill="#d83058" opacity=".8"/><circle cx="31.9" cy="49.7" r="1.0" fill="#d83058" opacity=".8"/><circle cx="27.0" cy="51.8" r="0.7" fill="#d83058" opacity=".8"/><circle cx="29.4" cy="51.1" r="1.0" fill="#d83058" opacity=".8"/><circle cx="33.6" cy="48.4" r="1.3" fill="#d83058" opacity=".8"/><circle cx="30.1" cy="50.5" r="1.0" fill="#d83058" opacity=".8"/><circle cx="26.1" cy="50.3" r="0.9" fill="#d83058" opacity=".8"/><circle cx="26.6" cy="47.2" r="1.3" fill="#d83058" opacity=".8"/><circle cx="28.8" cy="52.6" r="1.3" fill="#d83058" opacity=".8"/><circle cx="30.2" cy="51.2" r="0.8" fill="#d83058" opacity=".8"/><circle cx="34.4" cy="52.3" r="1.3" fill="#d83058" opacity=".8"/><circle cx="29.4" cy="51.2" r="0.7" fill="#d83058" opacity=".8"/><circle cx="30.0" cy="51.0" r="0.9" fill="#d83058" opacity=".8"/><circle cx="28.0" cy="49.1" r="0.6" fill="#d83058" opacity=".8"/><circle cx="29.7" cy="49.3" r="0.8" fill="#d83058" opacity=".8"/><circle cx="29.3" cy="52.4" r="0.7" fill="#d83058" opacity=".8"/><circle cx="27.7" cy="51.0" r="1.2" fill="#d83058" opacity=".8"/><circle cx="24.0" cy="48.2" r="1.1" fill="#d83058" opacity=".8"/><circle cx="30.2" cy="46.7" r="1.0" fill="#d83058" opacity=".8"/><circle cx="31.8" cy="46.7" r="1.4" fill="#d83058" opacity=".8"/><circle cx="29.4" cy="46.2" r="0.8" fill="#d83058" opacity=".8"/><circle cx="31.1" cy="47.7" r="0.7" fill="#d83058" opacity=".8"/><circle cx="31.7" cy="50.6" r="0.8" fill="#d83058" opacity=".8"/><circle cx="36.5" cy="56.2" r="0.7" fill="#d83058" opacity=".8"/><circle cx="38.4" cy="54.8" r="0.6" fill="#d83058" opacity=".8"/><circle cx="40.0" cy="58.4" r="0.9" fill="#d83058" opacity=".8"/><circle cx="44.2" cy="53.3" r="1.1" fill="#d83058" opacity=".8"/><circle cx="38.5" cy="60.6" r="0.9" fill="#d83058" opacity=".8"/><circle cx="37.7" cy="58.3" r="1.1" fill="#d83058" opacity=".8"/><circle cx="41.0" cy="54.4" r="0.7" fill="#d83058" opacity=".8"/><circle cx="35.6" cy="57.7" r="1.2" fill="#d83058" opacity=".8"/><circle cx="29.1" cy="60.0" r="1.2" fill="#d83058" opacity=".8"/><circle cx="40.6" cy="59.5" r="1.3" fill="#d83058" opacity=".8"/><circle cx="33.9" cy="58.6" r="1.0" fill="#d83058" opacity=".8"/><circle cx="39.0" cy="52.2" r="1.0" fill="#d83058" opacity=".8"/><circle cx="43.3" cy="57.4" r="0.7" fill="#d83058" opacity=".8"/><circle cx="39.6" cy="55.6" r="0.6" fill="#d83058" opacity=".8"/><circle cx="39.0" cy="57.9" r="1.1" fill="#d83058" opacity=".8"/><circle cx="29.8" cy="58.6" r="0.9" fill="#d83058" opacity=".8"/><circle cx="38.7" cy="60.0" r="0.8" fill="#d83058" opacity=".8"/><circle cx="34.5" cy="57.1" r="1.2" fill="#d83058" opacity=".8"/><circle cx="38.2" cy="60.3" r="0.8" fill="#d83058" opacity=".8"/><circle cx="45.6" cy="57.5" r="1.3" fill="#d83058" opacity=".8"/><circle cx="35.0" cy="56.3" r="0.7" fill="#d83058" opacity=".8"/><circle cx="40.3" cy="55.5" r="0.6" fill="#d83058" opacity=".8"/><circle cx="38.9" cy="59.0" r="1.2" fill="#d83058" opacity=".8"/><circle cx="40.2" cy="57.0" r="1.2" fill="#d83058" opacity=".8"/><circle cx="35.3" cy="61.4" r="1.3" fill="#d83058" opacity=".8"/><circle cx="32.9" cy="54.9" r="0.9" fill="#d83058" opacity=".8"/><circle cx="42.8" cy="58.2" r="1.1" fill="#d83058" opacity=".8"/><circle cx="39.6" cy="60.3" r="0.9" fill="#d83058" opacity=".8"/><circle cx="41.4" cy="58.4" r="0.9" fill="#d83058" opacity=".8"/><circle cx="31.8" cy="58.6" r="0.9" fill="#d83058" opacity=".8"/><ellipse cx="26" cy="30" rx="8" ry="9" fill="#e8507a" opacity=".7"/><ellipse cx="52" cy="24" rx="7" ry="8" fill="#e04070" opacity=".7"/><ellipse cx="38" cy="58" rx="6" ry="4" fill="#ec4a70" opacity=".8"/><ellipse cx="30" cy="50" rx="4" ry="3" fill="#e85a80" opacity=".8"/><ellipse cx="22" cy="60" rx="3" ry="5" fill="#606060" opacity=".6"/><ellipse cx="13" cy="10" rx="3" ry="4" fill="#9aa" opacity=".4"/><ellipse cx="66" cy="32" rx="4" ry="5" fill="#888" opacity=".45"/><ellipse cx="70" cy="52" rx="3" ry="5" fill="#888" opacity=".45"/></svg>
<div class="bx" style="left:259px;top:113px;width:234px;height:85px;background:linear-gradient(to bottom,#fefadc 0%,#fdf0a8 45%,#fde27c 100%)"></div>
<svg class="im" style="left:337px;top:114px" width="80" height="58" viewBox="0 0 80 58" preserveAspectRatio="none"><rect width="80" height="58" fill="#e6d0e0"/><rect width="80" height="58" fill="#e6d0e0"/><rect x="0" y="0" width="80" height="20" fill="#ecdce8" opacity=".6"/><circle cx="21.2" cy="38.6" r="0.6" fill="#402030"/><circle cx="53.2" cy="26.8" r="0.6" fill="#402030"/><circle cx="24.7" cy="44.4" r="0.6" fill="#402030"/><circle cx="64.9" cy="28.7" r="0.6" fill="#402030"/><circle cx="44.3" cy="13.2" r="0.6" fill="#402030"/><circle cx="10.2" cy="20.8" r="0.6" fill="#402030"/><circle cx="49.8" cy="3.9" r="0.6" fill="#402030"/><circle cx="64.0" cy="13.0" r="0.6" fill="#402030"/><circle cx="25.8" cy="2.4" r="0.6" fill="#402030"/><circle cx="77.8" cy="41.4" r="0.6" fill="#402030"/><circle cx="69.5" cy="34.5" r="0.6" fill="#402030"/><circle cx="12.3" cy="18.4" r="0.6" fill="#402030"/><circle cx="43.8" cy="6.5" r="0.6" fill="#402030"/><circle cx="74.7" cy="20.6" r="0.6" fill="#402030"/><circle cx="20.5" cy="45.8" r="0.6" fill="#402030"/><circle cx="18.5" cy="52.0" r="0.6" fill="#402030"/><circle cx="40.8" cy="30.9" r="0.6" fill="#402030"/><circle cx="33.3" cy="27.1" r="0.6" fill="#402030"/></svg>
<svg class="nt" style="left:477px;top:178px" width="12" height="13" viewBox="0 0 12 13"><path d="M0.5 0.5H10.5V8.5L7.5 11.5H0.5Z" fill="#fff2a0" stroke="#a08428" stroke-width="1"/><path d="M2 2.5H9M2 4.5H9M2 6.5H9M2 8.5H5.5" stroke="#807020" stroke-width="1"/><path d="M7.5 11.5V8.5H10.5" fill="#e0c860" stroke="#a08428" stroke-width="1"/></svg>
<div class="bx" style="left:531px;top:202px;width:164px;height:22px;background:linear-gradient(to bottom,#fefadc 0%,#fdf0a8 45%,#fde27c 100%)"></div>
<div class="lb" style="left:580px;top:226px;width:64px;height:19px"></div>
<svg class="nt" style="left:492px;top:206px" width="12" height="13" viewBox="0 0 12 13"><path d="M0.5 0.5H10.5V8.5L7.5 11.5H0.5Z" fill="#fff2a0" stroke="#a08428" stroke-width="1"/><path d="M2 2.5H9M2 4.5H9M2 6.5H9M2 8.5H5.5" stroke="#807020" stroke-width="1"/><path d="M7.5 11.5V8.5H10.5" fill="#e0c860" stroke="#a08428" stroke-width="1"/></svg>
<div class="bx" style="left:481px;top:427px;width:214px;height:24px;background:linear-gradient(to bottom,#acd8fa 0%,#6ebaf5 45%,#2494f0 100%)"></div>
<div class="lb" style="left:549px;top:452px;width:76px;height:19px"></div>
<div class="bx" style="left:286px;top:309px;width:172px;height:24px;background:linear-gradient(to bottom,#acd8fa 0%,#6ebaf5 45%,#2494f0 100%)"></div>
<div class="bx" style="left:16px;top:250px;width:248px;height:86px;background:linear-gradient(to bottom,#acd8fa 0%,#6ebaf5 45%,#2494f0 100%)"></div>
<svg class="im" style="left:101px;top:251px" width="78" height="60" viewBox="0 0 78 60" preserveAspectRatio="none"><rect width="78" height="60" fill="#b4b43c"/><rect width="78" height="60" fill="#b4b43c"/><path d="M0 0H78V14Q60 20 40 12T0 18Z" fill="#8a8a28"/><path d="M0 22 Q15 16 30 26 T60 22 T78 30 V40 Q60 34 45 42 T15 40 T0 44Z" fill="#dce45a"/><path d="M20 30 Q35 40 55 36" stroke="#e8ee70" stroke-width="6" fill="none"/><path d="M5 48 Q20 44 30 52 M50 50 Q62 46 74 52" stroke="#d0d850" stroke-width="5" fill="none"/><ellipse cx="47" cy="50" rx="8" ry="7" fill="#5a6018"/><rect x="12" y="6" width="7" height="20" rx="3.5" fill="#c04868" transform="rotate(-38 15 16)"/><rect x="66" y="12" width="6" height="16" rx="3" fill="#b84060" transform="rotate(18 69 20)"/><path d="M42 34 Q55 31 64 26" stroke="#4a1414" stroke-width="3.5" fill="none"/><path d="M20 20 Q35 24 48 18" stroke="#e0d8c0" stroke-width="2" fill="none"/></svg>
<svg class="nt" style="left:247px;top:318px" width="12" height="13" viewBox="0 0 12 13"><path d="M0.5 0.5H10.5V8.5L7.5 11.5H0.5Z" fill="#fff2a0" stroke="#a08428" stroke-width="1"/><path d="M2 2.5H9M2 4.5H9M2 6.5H9M2 8.5H5.5" stroke="#807020" stroke-width="1"/><path d="M7.5 11.5V8.5H10.5" fill="#e0c860" stroke="#a08428" stroke-width="1"/></svg>
<div class="bx" style="left:140px;top:340px;width:124px;height:24px;background:linear-gradient(to bottom,#acd8fa 0%,#6ebaf5 45%,#2494f0 100%)"></div>
<div class="bx" style="left:91px;top:368px;width:173px;height:24px;background:linear-gradient(to bottom,#acd8fa 0%,#6ebaf5 45%,#2494f0 100%)"></div>
<div class="bx" style="left:333px;top:396px;width:125px;height:24px;background:linear-gradient(to bottom,#acd8fa 0%,#6ebaf5 45%,#2494f0 100%)"></div>
<div class="bx" style="left:103px;top:396px;width:208px;height:24px;background:linear-gradient(to bottom,#acd8fa 0%,#6ebaf5 45%,#2494f0 100%)"></div>
<div class="bx" style="left:311px;top:459px;width:147px;height:23px;background:linear-gradient(to bottom,#acd8fa 0%,#6ebaf5 45%,#2494f0 100%)"></div>
<div class="bx" style="left:110px;top:424px;width:179px;height:91px;background:linear-gradient(to bottom,#acd8fa 0%,#6ebaf5 45%,#2494f0 100%)"></div>
<svg class="im" style="left:157px;top:425px" width="85" height="65" viewBox="0 0 85 65" preserveAspectRatio="none"><rect width="85" height="65" fill="#f2ecf4"/><path d="M36.1 53.1l-2.1 -2.1M50.1 42.8l0.3 3.0M50.1 49.3l-1.9 -2.3M51.0 50.7l-0.2 -3.0M47.7 52.7l-0.9 2.8M39.2 56.6l2.2 -2.1M36.8 59.0l-2.8 1.0M27.9 39.1l0.6 2.9M43.8 44.0l-3.0 -0.1M42.6 52.5l2.5 -1.7M50.7 64.7l-1.4 -2.6M53.9 62.1l-2.7 -1.3M49.9 52.2l-0.7 2.9M54.7 37.7l0.9 -2.9M33.8 58.1l2.1 -2.2M26.3 56.6l-1.5 2.6M40.2 65.0l-1.1 2.8M25.9 40.9l-2.5 1.6M26.3 61.0l-1.2 2.8M36.3 48.8l-3.0 -0.4M41.8 53.6l2.8 -1.1M46.6 42.1l-0.9 2.8M41.5 35.3l-2.6 1.5M43.5 54.0l2.8 1.1M45.4 45.6l-0.8 -2.9M61.8 3.4l2.8 1.1M56.8 60.8l-0.0 3.0M39.0 38.2l-1.3 2.7M31.5 21.1l-2.0 2.2M50.2 20.3l-2.1 2.1M64.6 3.6l-2.7 -1.3M61.5 20.9l0.5 3.0M67.1 16.6l1.2 2.8M37.3 44.6l2.4 1.8M28.1 22.4l1.5 -2.6M37.5 54.2l1.5 2.6M29.3 41.7l2.2 -2.0M38.5 15.7l2.2 2.1M44.9 13.6l1.0 -2.8M69.9 13.2l-0.5 3.0M67.4 41.2l1.0 -2.8M30.0 9.9l-0.8 2.9M66.3 18.5l-1.7 2.5M35.8 27.6l-2.5 1.6M76.6 11.5l3.0 0.1M78.4 55.7l3.0 -0.3M37.2 60.0l2.7 -1.3M20.0 47.5l1.5 -2.6M55.7 33.7l-0.7 2.9M29.6 15.9l2.7 1.2M49.7 19.5l1.1 -2.8M5.7 57.1l-1.0 -2.8M76.8 56.7l2.4 -1.8M48.7 2.8l-0.1 -3.0M15.9 20.3l-1.6 -2.6M44.5 27.2l2.8 -1.1M51.6 22.8l-0.0 3.0M71.8 31.1l0.6 -2.9M30.5 14.0l-2.9 -0.6M68.2 12.4l0.8 -2.9M76.7 51.2l1.3 -2.7M2.6 40.3l1.9 -2.3M6.0 18.6l-0.3 3.0M44.7 27.8l-3.0 0.5M64.9 2.1l2.8 1.0M12.3 9.6l2.7 1.2M81.0 54.1l2.6 1.5M42.7 21.3l-1.2 2.8M30.5 41.5l-2.6 -1.5M31.2 13.7l-1.4 2.6" stroke="#e0508c" stroke-width="1.5" stroke-linecap="round" fill="none"/><path d="M70 10 l8 -3 l4 6 l-6 4z" fill="#d83070"/><rect x="68" y="60" width="12" height="2" fill="#111"/></svg>
<svg class="nt" style="left:272px;top:497px" width="12" height="13" viewBox="0 0 12 13"><path d="M0.5 0.5H10.5V8.5L7.5 11.5H0.5Z" fill="#fff2a0" stroke="#a08428" stroke-width="1"/><path d="M2 2.5H9M2 4.5H9M2 6.5H9M2 8.5H5.5" stroke="#807020" stroke-width="1"/><path d="M7.5 11.5V8.5H10.5" fill="#e0c860" stroke="#a08428" stroke-width="1"/></svg>
<div class="bx" style="left:333px;top:562px;width:125px;height:24px;background:linear-gradient(to bottom,#acd8fa 0%,#6ebaf5 45%,#2494f0 100%)"></div>
<div class="bx" style="left:199px;top:519px;width:112px;height:88px;background:linear-gradient(to bottom,#acd8fa 0%,#6ebaf5 45%,#2494f0 100%)"></div>
<svg class="im" style="left:210px;top:520px" width="90" height="62" viewBox="0 0 90 62" preserveAspectRatio="none"><rect width="90" height="62" fill="#f6e2dc"/><rect width="90" height="62" fill="#f6e2dc"/><path d="M5 10 Q20 20 40 12 T80 20 M10 35 Q30 25 50 40 T88 30 M0 52 Q25 45 45 55 T90 50" stroke="#eec4bc" stroke-width="1" fill="none"/><rect x="70" y="57" width="12" height="1" fill="#555"/></svg>
<div class="lb" style="left:204px;top:608px;width:100px;height:19px"></div>
<div class="bx" style="left:544px;top:632px;width:151px;height:24px;background:linear-gradient(to bottom,#acd8fa 0%,#6ebaf5 45%,#2494f0 100%)"></div>
<div class="lb" style="left:582px;top:657px;width:74px;height:19px"></div>
<div class="bx" style="left:543px;top:772px;width:124px;height:24px;background:linear-gradient(to bottom,#acd8fa 0%,#6ebaf5 45%,#2494f0 100%)"></div>
<div class="lb" style="left:515px;top:797px;width:179px;height:19px"></div>
<div class="bx" style="left:315px;top:681px;width:190px;height:104px;background:linear-gradient(to bottom,#acd8fa 0%,#6ebaf5 45%,#2494f0 100%)"></div>
<svg class="im" style="left:356px;top:682px" width="107" height="78" viewBox="0 0 107 78" preserveAspectRatio="none"><rect width="107" height="78" fill="#c6c6c6"/><rect width="107" height="78" fill="#c6c6c6"/><ellipse cx="36" cy="45" rx="28" ry="19" fill="#2c2c2c" transform="rotate(20 36 45)"/><ellipse cx="62" cy="3" rx="16" ry="9" fill="#303030"/><path d="M48 38 L107 50 L107 66 L52 62Z" fill="#3a3a3a"/><path d="M12 2 Q40 10 60 22" stroke="#444" stroke-width="2" fill="none"/><path d="M52 0 Q76 28 68 58" stroke="#e8e8e8" stroke-width="0.8" fill="none"/><path d="M60 60 L100 78" stroke="#555" stroke-width="3"/><circle cx="80" cy="22" r="4" fill="none" stroke="#777" stroke-width="1"/></svg>
<svg class="nt" style="left:488px;top:767px" width="12" height="13" viewBox="0 0 12 13"><path d="M0.5 0.5H10.5V8.5L7.5 11.5H0.5Z" fill="#fff2a0" stroke="#a08428" stroke-width="1"/><path d="M2 2.5H9M2 4.5H9M2 6.5H9M2 8.5H5.5" stroke="#807020" stroke-width="1"/><path d="M7.5 11.5V8.5H10.5" fill="#e0c860" stroke="#a08428" stroke-width="1"/></svg>
<div class="bx" style="left:228px;top:789px;width:277px;height:97px;background:linear-gradient(to bottom,#acd8fa 0%,#6ebaf5 45%,#2494f0 100%)"></div>
<svg class="im" style="left:317px;top:790px" width="99" height="71" viewBox="0 0 99 71" preserveAspectRatio="none"><rect width="99" height="71" fill="#4c4c4c"/><rect width="99" height="71" fill="#4c4c4c"/><ellipse cx="47" cy="8" rx="5" ry="7" fill="#d8d8d8"/><ellipse cx="44" cy="32" rx="5" ry="12" fill="#e0e0e0"/><ellipse cx="46" cy="62" rx="6" ry="9" fill="#e0e0e0"/><rect x="5" y="63" width="60" height="3" fill="#888" opacity=".7"/></svg>
<svg class="nt" style="left:488px;top:868px" width="12" height="13" viewBox="0 0 12 13"><path d="M0.5 0.5H10.5V8.5L7.5 11.5H0.5Z" fill="#fff2a0" stroke="#a08428" stroke-width="1"/><path d="M2 2.5H9M2 4.5H9M2 6.5H9M2 8.5H5.5" stroke="#807020" stroke-width="1"/><path d="M7.5 11.5V8.5H10.5" fill="#e0c860" stroke="#a08428" stroke-width="1"/></svg>
<div class="bx" style="left:495px;top:890px;width:200px;height:24px;background:linear-gradient(to bottom,#acd8fa 0%,#6ebaf5 45%,#2494f0 100%)"></div>
<div class="lb" style="left:556px;top:915px;width:75px;height:19px"></div>
<div class="bx" style="left:246px;top:890px;width:226px;height:24px;background:linear-gradient(to bottom,#acd8fa 0%,#6ebaf5 45%,#2494f0 100%)"></div>
<svg class="nt" style="left:456px;top:896px" width="12" height="13" viewBox="0 0 12 13"><path d="M0.5 0.5H10.5V8.5L7.5 11.5H0.5Z" fill="#fff2a0" stroke="#a08428" stroke-width="1"/><path d="M2 2.5H9M2 4.5H9M2 6.5H9M2 8.5H5.5" stroke="#807020" stroke-width="1"/><path d="M7.5 11.5V8.5H10.5" fill="#e0c860" stroke="#a08428" stroke-width="1"/></svg>
<div class="bx" style="left:472px;top:988px;width:222px;height:24px;background:linear-gradient(to bottom,#e6f4fa 0%,#c4e2f0 40%,#98cbe3 100%)"></div>
<svg class="nt" style="left:678px;top:994px" width="12" height="13" viewBox="0 0 12 13"><path d="M0.5 0.5H10.5V8.5L7.5 11.5H0.5Z" fill="#fff2a0" stroke="#a08428" stroke-width="1"/><path d="M2 2.5H9M2 4.5H9M2 6.5H9M2 8.5H5.5" stroke="#807020" stroke-width="1"/><path d="M7.5 11.5V8.5H10.5" fill="#e0c860" stroke="#a08428" stroke-width="1"/></svg>
<div class="lb" style="left:546px;top:1013px;width:74px;height:19px"></div>
<div class="bx" style="left:272px;top:940px;width:178px;height:92px;background:linear-gradient(to bottom,#e6f4fa 0%,#c4e2f0 40%,#98cbe3 100%)"></div>
<svg class="im" style="left:314px;top:940px" width="93" height="67" viewBox="0 0 93 67" preserveAspectRatio="none"><rect width="93" height="67" fill="#e4a0d4"/><rect width="93" height="67" fill="#e4a0d4"/><ellipse cx="30.1" cy="10.1" rx="4.0" ry="1.7" fill="#f6dcf0"/><ellipse cx="49.8" cy="24.5" rx="2.2" ry="2.8" fill="#f6dcf0"/><ellipse cx="3.5" cy="29.1" rx="2.2" ry="1.7" fill="#f6dcf0"/><ellipse cx="39.5" cy="55.4" rx="2.4" ry="2.1" fill="#f6dcf0"/><ellipse cx="58.4" cy="63.5" rx="3.7" ry="2.5" fill="#f6dcf0"/><ellipse cx="90.8" cy="3.1" rx="4.6" ry="2.2" fill="#f6dcf0"/><ellipse cx="13.4" cy="7.9" rx="2.9" ry="3.5" fill="#f6dcf0"/><ellipse cx="16.8" cy="39.0" rx="3.9" ry="2.4" fill="#f6dcf0"/><ellipse cx="50.9" cy="4.2" rx="2.2" ry="2.0" fill="#f6dcf0"/><ellipse cx="63.3" cy="28.6" rx="2.9" ry="3.0" fill="#f6dcf0"/><ellipse cx="42.1" cy="20.1" rx="4.4" ry="3.2" fill="#f6dcf0"/><ellipse cx="22.7" cy="38.5" rx="3.6" ry="3.7" fill="#f6dcf0"/><ellipse cx="67.8" cy="19.3" rx="4.9" ry="1.8" fill="#f6dcf0"/><ellipse cx="38.9" cy="50.7" rx="2.5" ry="2.7" fill="#f6dcf0"/><ellipse cx="3.6" cy="44.8" rx="4.3" ry="2.9" fill="#f6dcf0"/><ellipse cx="81.4" cy="21.0" rx="4.1" ry="3.0" fill="#f6dcf0"/><ellipse cx="53.9" cy="30.6" rx="4.5" ry="3.9" fill="#f6dcf0"/><ellipse cx="44.1" cy="44.5" rx="2.2" ry="3.3" fill="#f6dcf0"/><ellipse cx="60.2" cy="66.5" rx="4.5" ry="2.2" fill="#f6dcf0"/><ellipse cx="35.9" cy="44.8" rx="2.1" ry="2.7" fill="#f6dcf0"/><ellipse cx="15.6" cy="7.8" rx="2.2" ry="3.4" fill="#f6dcf0"/><ellipse cx="12.0" cy="16.6" rx="3.2" ry="3.7" fill="#f6dcf0"/><ellipse cx="7.5" cy="30.1" rx="3.6" ry="3.7" fill="#f6dcf0"/><ellipse cx="76.2" cy="57.9" rx="2.8" ry="2.5" fill="#f6dcf0"/><ellipse cx="33.4" cy="59.2" rx="4.9" ry="1.9" fill="#f6dcf0"/><ellipse cx="16.4" cy="15.5" rx="2.7" ry="2.7" fill="#f6dcf0"/><ellipse cx="54.8" cy="17.6" rx="2.0" ry="2.5" fill="#f6dcf0"/><ellipse cx="34.3" cy="37.9" rx="4.9" ry="3.2" fill="#f6dcf0"/><ellipse cx="47.9" cy="41.4" rx="4.0" ry="1.6" fill="#f6dcf0"/><ellipse cx="83.7" cy="52.3" rx="4.6" ry="3.5" fill="#f6dcf0"/><ellipse cx="36.5" cy="26.7" rx="2.3" ry="3.1" fill="#f6dcf0"/><ellipse cx="5.8" cy="4.5" rx="2.6" ry="1.9" fill="#f6dcf0"/><ellipse cx="31.6" cy="3.5" rx="2.0" ry="1.9" fill="#f6dcf0"/><ellipse cx="9.4" cy="24.4" rx="2.1" ry="3.7" fill="#f6dcf0"/><ellipse cx="57.1" cy="10.0" rx="2.8" ry="2.4" fill="#f6dcf0"/><ellipse cx="33.9" cy="8.2" rx="4.5" ry="4.0" fill="#f6dcf0"/><ellipse cx="43.3" cy="32.4" rx="2.3" ry="1.8" fill="#f6dcf0"/><ellipse cx="31.9" cy="17.7" rx="4.5" ry="1.9" fill="#f6dcf0"/><ellipse cx="2.1" cy="63.7" rx="3.6" ry="1.9" fill="#f6dcf0"/><ellipse cx="50.5" cy="1.8" rx="3.6" ry="3.9" fill="#f6dcf0"/><ellipse cx="80.3" cy="46.6" rx="2.8" ry="2.4" fill="#f6dcf0"/><ellipse cx="15.5" cy="51.7" rx="3.6" ry="3.4" fill="#f6dcf0"/><ellipse cx="30.7" cy="14.9" rx="4.4" ry="4.0" fill="#f6dcf0"/><ellipse cx="79.3" cy="54.0" rx="4.5" ry="3.3" fill="#f6dcf0"/><ellipse cx="21.1" cy="34.7" rx="3.1" ry="1.6" fill="#f6dcf0"/><ellipse cx="2.6" cy="18.7" rx="2.8" ry="3.2" fill="#f6dcf0"/><ellipse cx="89.0" cy="30.0" rx="4.8" ry="4.0" fill="#f6dcf0"/><ellipse cx="88.8" cy="24.4" rx="2.7" ry="2.1" fill="#f6dcf0"/><ellipse cx="18.3" cy="13.7" rx="3.9" ry="3.8" fill="#f6dcf0"/><ellipse cx="78.2" cy="32.1" rx="4.0" ry="3.5" fill="#f6dcf0"/><ellipse cx="7.9" cy="44.3" rx="4.7" ry="3.5" fill="#f6dcf0"/><ellipse cx="69.8" cy="32.0" rx="2.5" ry="3.5" fill="#f6dcf0"/><ellipse cx="30.9" cy="53.7" rx="4.9" ry="2.5" fill="#f6dcf0"/><ellipse cx="37.3" cy="63.4" rx="4.2" ry="1.9" fill="#f6dcf0"/><ellipse cx="11.8" cy="10.1" rx="4.7" ry="3.5" fill="#f6dcf0"/><ellipse cx="13.6" cy="55.4" rx="4.9" ry="3.1" fill="#f6dcf0"/><ellipse cx="32.6" cy="36.8" rx="2.4" ry="1.5" fill="#f6dcf0"/><ellipse cx="90.3" cy="43.5" rx="3.6" ry="3.8" fill="#f6dcf0"/><ellipse cx="40.3" cy="58.4" rx="4.5" ry="2.0" fill="#f6dcf0"/><ellipse cx="23.4" cy="19.6" rx="2.7" ry="3.0" fill="#f6dcf0"/></svg>
<div class="bx" style="left:288px;top:1036px;width:162px;height:25px;background:linear-gradient(to bottom,#e6f4fa 0%,#c4e2f0 40%,#98cbe3 100%)"></div>
<div class="bx" style="left:455px;top:1128px;width:239px;height:23px;background:linear-gradient(to bottom,#fefadc 0%,#fdf0a8 45%,#fde27c 100%)"></div>
<div class="lb" style="left:542px;top:1152px;width:64px;height:20px"></div>
<div class="bx" style="left:156px;top:1064px;width:277px;height:24px;background:linear-gradient(to bottom,#fefadc 0%,#fdf0a8 45%,#fde27c 100%)"></div>
<svg class="nt" style="left:416px;top:1070px" width="12" height="13" viewBox="0 0 12 13"><path d="M0.5 0.5H10.5V8.5L7.5 11.5H0.5Z" fill="#fff2a0" stroke="#a08428" stroke-width="1"/><path d="M2 2.5H9M2 4.5H9M2 6.5H9M2 8.5H5.5" stroke="#807020" stroke-width="1"/><path d="M7.5 11.5V8.5H10.5" fill="#e0c860" stroke="#a08428" stroke-width="1"/></svg>
<div class="bx" style="left:229px;top:1093px;width:204px;height:23px;background:linear-gradient(to bottom,#fefadc 0%,#fdf0a8 45%,#fde27c 100%)"></div>
<div class="bx" style="left:192px;top:1120px;width:241px;height:95px;background:linear-gradient(to bottom,#fefadc 0%,#fdf0a8 45%,#fde27c 100%)"></div>
<svg class="im" style="left:266px;top:1121px" width="92" height="68" viewBox="0 0 92 68" preserveAspectRatio="none"><rect width="92" height="68" fill="#555"/><rect width="92" height="68" fill="#555"/><path d="M18.1 32.5l6.9 -3.6M20.3 34.1l3.2 7.4M25.2 46.0l5.3 3.6M3.6 47.0l-1.5 -4.1M39.3 56.0l-5.1 -7.3M6.3 0.9l-4.4 -0.8M7.6 14.0l7.6 1.4M17.6 48.9l-9.1 -1.1M20.0 38.4l-6.0 1.7M39.9 57.8l5.2 -8.2M12.6 13.3l-1.1 4.4M30.7 23.2l4.0 -5.8M38.3 49.1l5.7 0.0M36.4 27.3l7.1 -0.9M2.9 36.5l1.1 -6.1M3.5 19.3l9.8 -2.3M4.7 14.3l3.6 2.7M31.9 10.3l-7.1 -2.7M7.6 42.4l6.2 6.7M4.7 24.4l1.4 6.0M38.8 46.6l-3.7 10.4M8.4 22.9l5.6 -7.3M4.0 57.4l1.4 5.9M30.9 19.1l-1.3 4.4M3.6 33.8l0.4 8.8M14.9 26.3l7.6 -2.0M23.0 50.3l2.1 4.8M36.3 47.4l0.0 5.5M29.6 54.5l3.8 11.0M35.3 35.0l-4.3 2.3M3.6 55.8l0.7 9.6M23.6 47.8l-5.2 -3.6M16.1 41.8l5.3 2.4M51.5 49.4l-4.7 -4.1M84.4 11.8l6.1 0.6M41.0 3.5l3.1 6.2M52.6 7.6l-7.2 8.5M90.2 38.1l-3.1 -8.1M12.9 2.0l11.2 1.3M64.5 55.8l9.0 1.2M44.4 42.4l-5.0 10.9M6.9 31.7l-0.9 -11.2M67.8 40.8l3.0 -10.9M32.4 39.7l8.9 -6.4M38.4 45.9l5.6 -6.5M57.5 22.2l-7.7 -4.4M7.4 37.1l11.0 -0.5M67.0 22.5l-0.8 -8.6M40.5 48.6l8.6 5.0M2.7 34.9l-5.8 0.7M64.2 28.8l-8.6 -7.5M23.5 0.7l-3.0 8.9M18.6 9.8l7.7 -5.2M40.7 51.7l-4.3 8.3M18.3 25.0l3.9 -10.6" stroke="#d8d8d8" stroke-width="1" fill="none"/><rect x="3" y="58" width="87" height="6" fill="#0a0a0a"/><rect x="48" y="60.5" width="18" height="1" fill="#eee"/><rect x="6" y="60" width="35" height="2" fill="#888"/></svg>
<div class="bx" style="left:486px;top:1219px;width:208px;height:23px;background:linear-gradient(to bottom,#fefadc 0%,#fdf0a8 45%,#fde27c 100%)"></div>
<div class="lb" style="left:558px;top:1243px;width:63px;height:19px"></div>
<div class="bx" style="left:258px;top:1219px;width:206px;height:23px;background:linear-gradient(to bottom,#fefadc 0%,#fdf0a8 45%,#fde27c 100%)"></div>
<div class="bx" style="left:466px;top:1299px;width:229px;height:24px;background:linear-gradient(to bottom,#ffb0b4 0%,#ff5a5e 45%,#ff0d0d 100%)"></div>
<div class="lb" style="left:542px;top:1325px;width:76px;height:18px"></div>
<div class="bx" style="left:181px;top:1267px;width:263px;height:88px;background:linear-gradient(to bottom,#ffb0b4 0%,#ff5a5e 45%,#ff0d0d 100%)"></div>
<svg class="im" style="left:271px;top:1268px" width="84" height="62" viewBox="0 0 84 62" preserveAspectRatio="none"><rect width="84" height="62" fill="#3c6c78"/><rect width="84" height="62" fill="#3c6c78"/><path d="M0 10 Q20 25 40 15 T84 20 M0 40 Q30 30 50 45 T84 40" stroke="#7aa8b0" stroke-width="4" fill="none" opacity=".6"/><rect x="10" y="28" width="6" height="30" rx="3" fill="#d8b494"/><rect x="17" y="32" width="6" height="28" rx="3" fill="#d0a888"/><rect x="40" y="6" width="6" height="22" rx="3" fill="#dcb898" transform="rotate(50 43 17)"/><rect x="55" y="10" width="6" height="26" rx="3" fill="#dcb898" transform="rotate(-10 58 23)"/><rect x="50" y="34" width="6" height="24" rx="3" fill="#d8b090" transform="rotate(-30 53 46)"/></svg>
<svg class="nt" style="left:427px;top:1337px" width="12" height="13" viewBox="0 0 12 13"><path d="M0.5 0.5H10.5V8.5L7.5 11.5H0.5Z" fill="#fff2a0" stroke="#a08428" stroke-width="1"/><path d="M2 2.5H9M2 4.5H9M2 6.5H9M2 8.5H5.5" stroke="#807020" stroke-width="1"/><path d="M7.5 11.5V8.5H10.5" fill="#e0c860" stroke="#a08428" stroke-width="1"/></svg>
<div class="bx" style="left:532px;top:1359px;width:146px;height:24px;background:linear-gradient(to bottom,#ffb0b4 0%,#ff5a5e 45%,#ff0d0d 100%)"></div>
<div class="lb" style="left:515px;top:1383px;width:179px;height:20px"></div>
<div class="bx" style="left:518px;top:1419px;width:174px;height:24px;background:linear-gradient(to bottom,#ffb0b4 0%,#ff5a5e 45%,#ff0d0d 100%)"></div>
<div class="lb" style="left:515px;top:1444px;width:179px;height:19px"></div>
<div class="bx" style="left:244px;top:1408px;width:252px;height:24px;background:linear-gradient(to bottom,#ffb0b4 0%,#ff5a5e 45%,#ff0d0d 100%)"></div>
<svg class="nt" style="left:479px;top:1414px" width="12" height="13" viewBox="0 0 12 13"><path d="M0.5 0.5H10.5V8.5L7.5 11.5H0.5Z" fill="#fff2a0" stroke="#a08428" stroke-width="1"/><path d="M2 2.5H9M2 4.5H9M2 6.5H9M2 8.5H5.5" stroke="#807020" stroke-width="1"/><path d="M7.5 11.5V8.5H10.5" fill="#e0c860" stroke="#a08428" stroke-width="1"/></svg>
<div class="lb" style="left:325px;top:1433px;width:87px;height:19px"></div>
<div class="bx" style="left:519px;top:1468px;width:176px;height:24px;background:linear-gradient(to bottom,#ffb0b4 0%,#ff5a5e 45%,#ff0d0d 100%)"></div>
<div class="lb" style="left:569px;top:1493px;width:74px;height:19px"></div>
<div class="bx" style="left:324px;top:1468px;width:173px;height:24px;background:linear-gradient(to bottom,#ffb0b4 0%,#ff5a5e 45%,#ff0d0d 100%)"></div>
<svg class="nt" style="left:480px;top:1474px" width="12" height="13" viewBox="0 0 12 13"><path d="M0.5 0.5H10.5V8.5L7.5 11.5H0.5Z" fill="#fff2a0" stroke="#a08428" stroke-width="1"/><path d="M2 2.5H9M2 4.5H9M2 6.5H9M2 8.5H5.5" stroke="#807020" stroke-width="1"/><path d="M7.5 11.5V8.5H10.5" fill="#e0c860" stroke="#a08428" stroke-width="1"/></svg>
<div class="bx" style="left:664px;top:1585px;width:90px;height:23px;background:linear-gradient(to bottom,#e6f4fa 0%,#c4e2f0 40%,#98cbe3 100%)"></div>
<div class="bx" style="left:443px;top:1518px;width:198px;height:23px;background:linear-gradient(to bottom,#e6f4fa 0%,#c4e2f0 40%,#98cbe3 100%)"></div>
<div class="lb" style="left:504px;top:1542px;width:75px;height:19px"></div>
<div class="bx" style="left:503px;top:1582px;width:138px;height:22px;background:linear-gradient(to bottom,#e6f4fa 0%,#c4e2f0 40%,#98cbe3 100%)"></div>
<div class="lb" style="left:534px;top:1605px;width:76px;height:19px"></div>
<div class="bx" style="left:462px;top:1630px;width:179px;height:23px;background:linear-gradient(to bottom,#e6f4fa 0%,#c4e2f0 40%,#98cbe3 100%)"></div>
<div class="lb" style="left:513px;top:1654px;width:75px;height:19px"></div>
<div class="mn" style="left:1096px;top:825px;width:138px;height:41px;border-color:#7a3a8e"></div>
<svg class="nt" style="left:1214px;top:840px" width="12" height="13" viewBox="0 0 12 13"><path d="M0.5 0.5H10.5V8.5L7.5 11.5H0.5Z" fill="#fff2a0" stroke="#a08428" stroke-width="1"/><path d="M2 2.5H9M2 4.5H9M2 6.5H9M2 8.5H5.5" stroke="#807020" stroke-width="1"/><path d="M7.5 11.5V8.5H10.5" fill="#e0c860" stroke="#a08428" stroke-width="1"/></svg>
<div class="bx" style="left:1314px;top:418px;width:201px;height:24px;background:linear-gradient(to bottom,#acd8fa 0%,#6ebaf5 45%,#2494f0 100%)"></div>
<div class="lb" style="left:1377px;top:442px;width:74px;height:20px"></div>
<div class="bx" style="left:1537px;top:405px;width:267px;height:23px;background:linear-gradient(to bottom,#acd8fa 0%,#6ebaf5 45%,#2494f0 100%)"></div>
<svg class="nt" style="left:1787px;top:410px" width="12" height="13" viewBox="0 0 12 13"><path d="M0.5 0.5H10.5V8.5L7.5 11.5H0.5Z" fill="#fff2a0" stroke="#a08428" stroke-width="1"/><path d="M2 2.5H9M2 4.5H9M2 6.5H9M2 8.5H5.5" stroke="#807020" stroke-width="1"/><path d="M7.5 11.5V8.5H10.5" fill="#e0c860" stroke="#a08428" stroke-width="1"/></svg>
<div class="bx" style="left:1537px;top:432px;width:280px;height:24px;background:linear-gradient(to bottom,#acd8fa 0%,#6ebaf5 45%,#2494f0 100%)"></div>
<div class="bx" style="left:1314px;top:584px;width:209px;height:24px;background:linear-gradient(to bottom,#acd8fa 0%,#6ebaf5 45%,#2494f0 100%)"></div>
<svg class="nt" style="left:1506px;top:590px" width="12" height="13" viewBox="0 0 12 13"><path d="M0.5 0.5H10.5V8.5L7.5 11.5H0.5Z" fill="#fff2a0" stroke="#a08428" stroke-width="1"/><path d="M2 2.5H9M2 4.5H9M2 6.5H9M2 8.5H5.5" stroke="#807020" stroke-width="1"/><path d="M7.5 11.5V8.5H10.5" fill="#e0c860" stroke="#a08428" stroke-width="1"/></svg>
<div class="lb" style="left:1381px;top:609px;width:74px;height:19px"></div>
<div class="bx" style="left:1545px;top:467px;width:292px;height:76px;background:linear-gradient(to bottom,#acd8fa 0%,#6ebaf5 45%,#2494f0 100%)"></div>
<svg class="im" style="left:1652px;top:468px" width="77" height="50" viewBox="0 0 77 50" preserveAspectRatio="none"><rect width="77" height="50" fill="#d8e2c4"/><rect width="77" height="50" fill="#d8e2c4"/><rect x="45" y="0" width="32" height="50" fill="#c0d0b8" opacity=".6"/><path d="M35.1 19.9L30.8 23.6L24.8 23.6L29.6 19.4L30.3 20.6M7.7 20.2L10.1 19.7L12.8 16.3L9.7 12.4L9.7 16.6M43.4 36.0L42.0 38.4L37.2 36.3L39.3 38.6L38.4 34.5M22.3 13.4L19.7 16.5L16.1 20.4L20.7 15.9L19.2 15.8M6.5 22.0L11.4 18.1L12.6 14.3L13.5 18.3L9.9 13.4M10.4 26.6L4.6 22.4L4.6 26.6L3.6 25.6L5.3 21.6M42.7 11.9L44.0 16.5L38.6 17.0L39.9 13.5L37.1 18.5M69.9 9.9L72.3 14.4L69.2 15.5L63.7 14.1L65.8 15.0M55.4 8.5L53.5 12.1L54.5 11.6L53.4 16.5L54.2 11.7" stroke="#8a5a3a" stroke-width="0.8" fill="none" stroke-dasharray="1 0.6"/><circle cx="48" cy="5" r="4.5" fill="#4a6860"/><circle cx="58" cy="10" r="4" fill="#3a5850"/><circle cx="70" cy="24" r="4" fill="#708878"/></svg>
<svg class="nt" style="left:1820px;top:525px" width="12" height="13" viewBox="0 0 12 13"><path d="M0.5 0.5H10.5V8.5L7.5 11.5H0.5Z" fill="#fff2a0" stroke="#a08428" stroke-width="1"/><path d="M2 2.5H9M2 4.5H9M2 6.5H9M2 8.5H5.5" stroke="#807020" stroke-width="1"/><path d="M7.5 11.5V8.5H10.5" fill="#e0c860" stroke="#a08428" stroke-width="1"/></svg>
<div class="bx" style="left:1545px;top:547px;width:283px;height:78px;background:linear-gradient(to bottom,#acd8fa 0%,#6ebaf5 45%,#2494f0 100%)"></div>
<svg class="im" style="left:1651px;top:548px" width="72" height="52" viewBox="0 0 72 52" preserveAspectRatio="none"><rect width="72" height="52" fill="#f0bce0"/><rect width="72" height="52" fill="#f0bce0"/><ellipse cx="60" cy="45" rx="20" ry="13" fill="#8048a0"/><circle cx="4" cy="6" r="4" fill="#c84a90"/><circle cx="7" cy="18" r="3.5" fill="#c05088"/><circle cx="34" cy="45" r="3" fill="#d05898"/><circle cx="58" cy="4" r="4" fill="#d06098" opacity=".8"/><circle cx="28" cy="50" r="3" fill="#e070a8" opacity=".7"/><circle cx="18.6" cy="35.6" r="0.7" fill="#402040"/><circle cx="49.3" cy="44.2" r="0.7" fill="#402040"/><circle cx="13.4" cy="12.0" r="0.7" fill="#402040"/><circle cx="10.6" cy="11.7" r="0.7" fill="#402040"/><circle cx="52.8" cy="6.8" r="0.7" fill="#402040"/><circle cx="38.3" cy="11.1" r="0.7" fill="#402040"/><circle cx="21.2" cy="22.4" r="0.7" fill="#402040"/><circle cx="60.3" cy="31.6" r="0.7" fill="#402040"/><circle cx="1.0" cy="14.3" r="0.7" fill="#402040"/><circle cx="10.6" cy="45.3" r="0.7" fill="#402040"/><circle cx="58.3" cy="41.9" r="0.7" fill="#402040"/><circle cx="59.5" cy="38.7" r="0.7" fill="#402040"/><circle cx="68.4" cy="41.3" r="0.7" fill="#402040"/><circle cx="18.5" cy="44.2" r="0.7" fill="#402040"/><circle cx="35.0" cy="39.3" r="0.7" fill="#402040"/><circle cx="40.6" cy="22.3" r="0.7" fill="#402040"/><circle cx="26.2" cy="22.4" r="0.7" fill="#402040"/><circle cx="22.6" cy="6.1" r="0.7" fill="#402040"/><circle cx="59.0" cy="41.5" r="0.7" fill="#402040"/><circle cx="71.0" cy="35.9" r="0.7" fill="#402040"/><circle cx="39.9" cy="38.9" r="0.7" fill="#402040"/><circle cx="9.7" cy="35.2" r="0.7" fill="#402040"/><circle cx="31.9" cy="9.2" r="0.7" fill="#402040"/><circle cx="14.6" cy="27.2" r="0.7" fill="#402040"/><circle cx="18.2" cy="23.9" r="0.7" fill="#402040"/></svg>
<svg class="nt" style="left:1812px;top:607px" width="12" height="13" viewBox="0 0 12 13"><path d="M0.5 0.5H10.5V8.5L7.5 11.5H0.5Z" fill="#fff2a0" stroke="#a08428" stroke-width="1"/><path d="M2 2.5H9M2 4.5H9M2 6.5H9M2 8.5H5.5" stroke="#807020" stroke-width="1"/><path d="M7.5 11.5V8.5H10.5" fill="#e0c860" stroke="#a08428" stroke-width="1"/></svg>
<div class="bx" style="left:1545px;top:630px;width:270px;height:74px;background:linear-gradient(to bottom,#fefadc 0%,#fdf0a8 45%,#fde27c 100%)"></div>
<svg class="im" style="left:1643px;top:630px" width="74" height="49" viewBox="0 0 74 49" preserveAspectRatio="none"><rect width="74" height="49" fill="#484848"/><rect width="74" height="49" fill="#484848"/><ellipse cx="37" cy="22" rx="6" ry="5" fill="#c4c4c4"/><ellipse cx="46" cy="25" rx="5" ry="4" fill="#bcbcbc"/><ellipse cx="22" cy="36" rx="6" ry="5" fill="#c8c8c8"/><circle cx="70" cy="5" r="4" fill="#cfcfcf"/></svg>
<svg class="nt" style="left:1798px;top:686px" width="12" height="13" viewBox="0 0 12 13"><path d="M0.5 0.5H10.5V8.5L7.5 11.5H0.5Z" fill="#fff2a0" stroke="#a08428" stroke-width="1"/><path d="M2 2.5H9M2 4.5H9M2 6.5H9M2 8.5H5.5" stroke="#807020" stroke-width="1"/><path d="M7.5 11.5V8.5H10.5" fill="#e0c860" stroke="#a08428" stroke-width="1"/></svg>
<div class="lb" style="left:1629px;top:705px;width:99px;height:19px"></div>
<div class="bx" style="left:1314px;top:729px;width:148px;height:24px;background:linear-gradient(to bottom,#acd8fa 0%,#6ebaf5 45%,#2494f0 100%)"></div>
<div class="lb" style="left:1349px;top:754px;width:76px;height:20px"></div>
<div class="bx" style="left:1330px;top:778px;width:147px;height:24px;background:linear-gradient(to bottom,#acd8fa 0%,#6ebaf5 45%,#2494f0 100%)"></div>
<div class="lb" style="left:1314px;top:803px;width:178px;height:19px"></div>
<div class="bx" style="left:1504px;top:778px;width:222px;height:24px;background:linear-gradient(to bottom,#acd8fa 0%,#6ebaf5 45%,#2494f0 100%)"></div>
<div class="bx" style="left:1314px;top:841px;width:281px;height:24px;background:linear-gradient(to bottom,#acd8fa 0%,#6ebaf5 45%,#2494f0 100%)"></div>
<svg class="nt" style="left:1579px;top:847px" width="12" height="13" viewBox="0 0 12 13"><path d="M0.5 0.5H10.5V8.5L7.5 11.5H0.5Z" fill="#fff2a0" stroke="#a08428" stroke-width="1"/><path d="M2 2.5H9M2 4.5H9M2 6.5H9M2 8.5H5.5" stroke="#807020" stroke-width="1"/><path d="M7.5 11.5V8.5H10.5" fill="#e0c860" stroke="#a08428" stroke-width="1"/></svg>
<div class="lb" style="left:1417px;top:866px;width:74px;height:19px"></div>
<div class="bx" style="left:1618px;top:827px;width:188px;height:24px;background:linear-gradient(to bottom,#acd8fa 0%,#6ebaf5 45%,#2494f0 100%)"></div>
<div class="bx" style="left:1618px;top:855px;width:271px;height:24px;background:linear-gradient(to bottom,#acd8fa 0%,#6ebaf5 45%,#2494f0 100%)"></div>
<div class="bx" style="left:1314px;top:946px;width:234px;height:24px;background:linear-gradient(to bottom,#e6f4fa 0%,#c4e2f0 40%,#98cbe3 100%)"></div>
<svg class="nt" style="left:1531px;top:952px" width="12" height="13" viewBox="0 0 12 13"><path d="M0.5 0.5H10.5V8.5L7.5 11.5H0.5Z" fill="#fff2a0" stroke="#a08428" stroke-width="1"/><path d="M2 2.5H9M2 4.5H9M2 6.5H9M2 8.5H5.5" stroke="#807020" stroke-width="1"/><path d="M7.5 11.5V8.5H10.5" fill="#e0c860" stroke="#a08428" stroke-width="1"/></svg>
<div class="lb" style="left:1392px;top:970px;width:76px;height:20px"></div>
<div class="bx" style="left:1570px;top:891px;width:125px;height:23px;background:linear-gradient(to bottom,#e6f4fa 0%,#c4e2f0 40%,#98cbe3 100%)"></div>
<div class="bx" style="left:1570px;top:919px;width:182px;height:23px;background:linear-gradient(to bottom,#e6f4fa 0%,#c4e2f0 40%,#98cbe3 100%)"></div>
<div class="bx" style="left:1570px;top:947px;width:206px;height:23px;background:linear-gradient(to bottom,#e6f4fa 0%,#c4e2f0 40%,#98cbe3 100%)"></div>
<svg class="nt" style="left:1760px;top:952px" width="12" height="13" viewBox="0 0 12 13"><path d="M0.5 0.5H10.5V8.5L7.5 11.5H0.5Z" fill="#fff2a0" stroke="#a08428" stroke-width="1"/><path d="M2 2.5H9M2 4.5H9M2 6.5H9M2 8.5H5.5" stroke="#807020" stroke-width="1"/><path d="M7.5 11.5V8.5H10.5" fill="#e0c860" stroke="#a08428" stroke-width="1"/></svg>
<div class="bx" style="left:1570px;top:975px;width:192px;height:23px;background:linear-gradient(to bottom,#e6f4fa 0%,#c4e2f0 40%,#98cbe3 100%)"></div>
<svg class="nt" style="left:1745px;top:980px" width="12" height="13" viewBox="0 0 12 13"><path d="M0.5 0.5H10.5V8.5L7.5 11.5H0.5Z" fill="#fff2a0" stroke="#a08428" stroke-width="1"/><path d="M2 2.5H9M2 4.5H9M2 6.5H9M2 8.5H5.5" stroke="#807020" stroke-width="1"/><path d="M7.5 11.5V8.5H10.5" fill="#e0c860" stroke="#a08428" stroke-width="1"/></svg>
<div class="bx" style="left:1570px;top:1003px;width:89px;height:23px;background:linear-gradient(to bottom,#e6f4fa 0%,#c4e2f0 40%,#98cbe3 100%)"></div>
<div class="bx" style="left:1314px;top:1073px;width:162px;height:23px;background:linear-gradient(to bottom,#ffb0b4 0%,#ff5a5e 45%,#ff0d0d 100%)"></div>
<svg class="nt" style="left:1460px;top:1078px" width="12" height="13" viewBox="0 0 12 13"><path d="M0.5 0.5H10.5V8.5L7.5 11.5H0.5Z" fill="#fff2a0" stroke="#a08428" stroke-width="1"/><path d="M2 2.5H9M2 4.5H9M2 6.5H9M2 8.5H5.5" stroke="#807020" stroke-width="1"/><path d="M7.5 11.5V8.5H10.5" fill="#e0c860" stroke="#a08428" stroke-width="1"/></svg>
<div class="lb" style="left:1357px;top:1096px;width:76px;height:20px"></div>
<div class="bx" style="left:1499px;top:1031px;width:144px;height:23px;background:linear-gradient(to bottom,#ffb0b4 0%,#ff5a5e 45%,#ff0d0d 100%)"></div>
<div class="bx" style="left:1499px;top:1059px;width:169px;height:23px;background:linear-gradient(to bottom,#ffb0b4 0%,#ff5a5e 45%,#ff0d0d 100%)"></div>
<svg class="nt" style="left:1652px;top:1064px" width="12" height="13" viewBox="0 0 12 13"><path d="M0.5 0.5H10.5V8.5L7.5 11.5H0.5Z" fill="#fff2a0" stroke="#a08428" stroke-width="1"/><path d="M2 2.5H9M2 4.5H9M2 6.5H9M2 8.5H5.5" stroke="#807020" stroke-width="1"/><path d="M7.5 11.5V8.5H10.5" fill="#e0c860" stroke="#a08428" stroke-width="1"/></svg>
<div class="bx" style="left:1499px;top:1086px;width:129px;height:24px;background:linear-gradient(to bottom,#ffb0b4 0%,#ff5a5e 45%,#ff0d0d 100%)"></div>
<div class="bx" style="left:1499px;top:1114px;width:206px;height:24px;background:linear-gradient(to bottom,#ffb0b4 0%,#ff5a5e 45%,#ff0d0d 100%)"></div>
<svg class="nt" style="left:1688px;top:1120px" width="12" height="13" viewBox="0 0 12 13"><path d="M0.5 0.5H10.5V8.5L7.5 11.5H0.5Z" fill="#fff2a0" stroke="#a08428" stroke-width="1"/><path d="M2 2.5H9M2 4.5H9M2 6.5H9M2 8.5H5.5" stroke="#807020" stroke-width="1"/><path d="M7.5 11.5V8.5H10.5" fill="#e0c860" stroke="#a08428" stroke-width="1"/></svg>
<div class="bx" style="left:1327px;top:1202px;width:265px;height:24px;background:linear-gradient(to bottom,#ffb0b4 0%,#ff5a5e 45%,#ff0d0d 100%)"></div>
<div class="lb" style="left:1369px;top:1227px;width:180px;height:19px"></div>
<div class="bx" style="left:1614px;top:1142px;width:204px;height:24px;background:linear-gradient(to bottom,#ffb0b4 0%,#ff5a5e 45%,#ff0d0d 100%)"></div>
<div class="lb" style="left:1696px;top:1167px;width:39px;height:19px"></div>
<div class="bx" style="left:1614px;top:1192px;width:160px;height:23px;background:linear-gradient(to bottom,#ffb0b4 0%,#ff5a5e 45%,#ff0d0d 100%)"></div>
<div class="lb" style="left:1674px;top:1216px;width:39px;height:19px"></div>
<div class="bx" style="left:1614px;top:1240px;width:127px;height:24px;background:linear-gradient(to bottom,#ffb0b4 0%,#ff5a5e 45%,#ff0d0d 100%)"></div>
<div class="lb" style="left:1658px;top:1265px;width:39px;height:19px"></div>
<div class="mn" style="left:1058px;top:1412px;width:66px;height:41px;border-color:#9a9a9a"></div>
<div class="bx" style="left:1149px;top:1392px;width:169px;height:24px;background:linear-gradient(to bottom,#e6f4fa 0%,#c4e2f0 40%,#98cbe3 100%)"></div>
<div class="lb" style="left:1144px;top:1417px;width:179px;height:19px"></div>
<div class="bx" style="left:1342px;top:1364px;width:272px;height:24px;background:linear-gradient(to bottom,#e6f4fa 0%,#c4e2f0 40%,#98cbe3 100%)"></div>
<div class="bx" style="left:1342px;top:1393px;width:197px;height:23px;background:linear-gradient(to bottom,#e6f4fa 0%,#c4e2f0 40%,#98cbe3 100%)"></div>
<div class="bx" style="left:1342px;top:1421px;width:209px;height:23px;background:linear-gradient(to bottom,#e6f4fa 0%,#c4e2f0 40%,#98cbe3 100%)"></div>
<div class="bx" style="left:1149px;top:1490px;width:169px;height:24px;background:linear-gradient(to bottom,#e6f4fa 0%,#c4e2f0 40%,#98cbe3 100%)"></div>
<div class="lb" style="left:1144px;top:1514px;width:179px;height:20px"></div>
<div class="bx" style="left:1342px;top:1449px;width:171px;height:23px;background:linear-gradient(to bottom,#e6f4fa 0%,#c4e2f0 40%,#98cbe3 100%)"></div>
<div class="bx" style="left:1342px;top:1476px;width:191px;height:24px;background:linear-gradient(to bottom,#e6f4fa 0%,#c4e2f0 40%,#98cbe3 100%)"></div>
<div class="bx" style="left:1342px;top:1504px;width:154px;height:24px;background:linear-gradient(to bottom,#e6f4fa 0%,#c4e2f0 40%,#98cbe3 100%)"></div>
<div class="bx" style="left:1342px;top:1532px;width:210px;height:24px;background:linear-gradient(to bottom,#e6f4fa 0%,#c4e2f0 40%,#98cbe3 100%)"></div>
<div class="ct" style="left:957px;top:873px;width:96px;height:66px"></div>
<div class="tx" id="t1" style="left:783.4px;top:834.5px;line-height:23px;font-size:17px;font-weight:normal;color:#3a3a3a;transform:scaleX(1.0196)">グラム陰性菌</div>
<div class="tx" id="t2" style="left:723.2px;top:122.7px;line-height:18.6px;font-size:12.6px;font-weight:normal;color:#222;transform:scaleX(0.9692)">球菌</div>
<div class="tx" id="t3" style="left:521.2px;top:98.0px;line-height:18.6px;font-size:12.6px;font-weight:normal;color:#222018;transform:scaleX(1.0116)">ナイセリア属<span class="l">(Neisseria)</span></div>
<div class="tx" id="t4" style="left:576.7px;top:120.2px;line-height:18px;font-size:12px;font-weight:normal;color:#111;transform:scaleX(0.9800)">微好気性菌</div>
<div class="tx" id="t5" style="left:304.0px;top:88.0px;line-height:18.6px;font-size:12.6px;font-weight:normal;color:#222018;transform:scaleX(1.0103)">淋菌<span class="l">(Neisseria gonorrhoeae)</span></div>
<div class="tx" id="t6" style="left:264.4px;top:174.7px;line-height:18.6px;font-size:12.6px;font-weight:normal;color:#222018;transform:scaleX(1.0059)">髄膜炎菌<span class="l">(Neisseria meningitidis)</span></div>
<div class="tx" id="t7" style="left:536.4px;top:203.7px;line-height:18.6px;font-size:12.6px;font-weight:normal;color:#222018;transform:scaleX(1.0180)">モラクセラ属<span class="l">(Moraxella)</span></div>
<div class="tx" id="t8" style="left:583.3px;top:226.2px;line-height:18px;font-size:12px;font-weight:normal;color:#111;transform:scaleX(0.9883)">微好気性菌</div>
<div class="tx" id="t9" style="left:179.0px;top:203.2px;line-height:18.6px;font-size:12.6px;font-weight:normal;color:#222;transform:scaleX(1.0190)">モラクセラ・カタラーリス<span class="l">(Moraxella catarrhalis)</span></div>
<div class="tx" id="t10" style="left:722.9px;top:872.8px;line-height:19px;font-size:13px;font-weight:normal;color:#222;transform:scaleX(0.9962)">桿菌</div>
<div class="tx" id="t11" style="left:486.0px;top:429.6px;line-height:18.6px;font-size:12.6px;font-weight:normal;color:#102238;transform:scaleX(1.0169)">腸内細菌科<span class="l">(Enterobacteriaceae)</span></div>
<div class="tx" id="t12" style="left:552.4px;top:452.4px;line-height:18px;font-size:12px;font-weight:normal;color:#111;transform:scaleX(0.9903)">通性嫌気性菌</div>
<div class="tx" id="t13" style="left:291.2px;top:311.4px;line-height:18.6px;font-size:12.6px;font-weight:normal;color:#102238;transform:scaleX(1.0169)">サルモネラ属<span class="l">(Salmonella)</span></div>
<div class="tx" id="t14" style="left:21.2px;top:314.3px;line-height:18.6px;font-size:12.6px;font-weight:normal;color:#102238;transform:scaleX(1.0153)">サルモネラ菌<span class="l">(Salmonella enterica)</span></div>
<div class="tx" id="t15" style="left:145.0px;top:342.6px;line-height:18.6px;font-size:12.6px;font-weight:normal;color:#102238;transform:scaleX(1.0290)">チフス菌<span class="l">(S.Typhi)</span></div>
<div class="tx" id="t16" style="left:96.4px;top:370.6px;line-height:18.6px;font-size:12.6px;font-weight:normal;color:#102238;transform:scaleX(1.0176)">パラチフス<span class="l">(S.ParatyphiA)</span></div>
<div class="tx" id="t17" style="left:338.4px;top:398.6px;line-height:18.6px;font-size:12.6px;font-weight:normal;color:#102238;transform:scaleX(1.0134)">セラチア<span class="l">(Serratia)</span></div>
<div class="tx" id="t18" style="left:108.5px;top:398.6px;line-height:18.6px;font-size:12.6px;font-weight:normal;color:#102238;transform:scaleX(1.0119)">セラチア<span class="l">(Serratia marcescens)</span></div>
<div class="tx" id="t19" style="left:316.2px;top:460.9px;line-height:18.6px;font-size:12.6px;font-weight:normal;color:#102238;transform:scaleX(1.0001)">大腸菌属<span class="l">(Escherichia)</span></div>
<div class="tx" id="t20" style="left:115.2px;top:493.9px;line-height:18.6px;font-size:12.6px;font-weight:normal;color:#102238;transform:scaleX(0.9961)">大腸菌<span class="l">(Escherichia coli)</span></div>
<div class="tx" id="t21" style="left:338.4px;top:564.5px;line-height:18.6px;font-size:12.6px;font-weight:normal;color:#102238;transform:scaleX(1.0070)">赤痢菌属<span class="l">(Shigella)</span></div>
<div class="tx" id="t22" style="left:204.2px;top:585.9px;line-height:18.6px;font-size:12.6px;font-weight:normal;color:#102238;transform:scaleX(1.0059)">赤痢菌<span class="l">(Shigella)</span></div>
<div class="tx" id="t23" style="left:207.5px;top:608.3px;line-height:18px;font-size:12px;font-weight:normal;color:#111;transform:scaleX(0.9896)">通性細胞内寄生菌</div>
<div class="tx" id="t24" style="left:549.4px;top:634.4px;line-height:18.6px;font-size:12.6px;font-weight:normal;color:#102238;transform:scaleX(1.0189)">プロテウス属<span class="l">(Proteus)</span></div>
<div class="tx" id="t25" style="left:584.5px;top:657.5px;line-height:18px;font-size:12px;font-weight:normal;color:#111;transform:scaleX(0.9861)">通性嫌気性菌</div>
<div class="tx" id="t26" style="left:548.4px;top:774.6px;line-height:18.6px;font-size:12.6px;font-weight:normal;color:#102238;transform:scaleX(1.0066)">ビブリオ属<span class="l">(Vibrio)</span></div>
<div class="tx" id="t27" style="left:518.1px;top:797.2px;line-height:18px;font-size:12px;font-weight:normal;color:#111;transform:scaleX(0.9917)">通性嫌気性菌<span class="l">, </span>通性細胞内寄生菌</div>
<div class="tx" id="t28" style="left:320.2px;top:763.5px;line-height:18.6px;font-size:12.6px;font-weight:normal;color:#102238;transform:scaleX(1.0102)">コレラ菌<span class="l">(Vibrio cholerae)</span></div>
<div class="tx" id="t29" style="left:233.1px;top:864.8px;line-height:18.6px;font-size:12.6px;font-weight:normal;color:#102238;transform:scaleX(1.0211)">腸炎ビブリオ<span class="l">(Vibrio parahaemolyticus)</span></div>
<div class="tx" id="t30" style="left:500.1px;top:892.3px;line-height:18.6px;font-size:12.6px;font-weight:normal;color:#102238;transform:scaleX(1.0277)">ヘモフィルス属<span class="l">(Haemophilus)</span></div>
<div class="tx" id="t31" style="left:559.3px;top:915.3px;line-height:18px;font-size:12px;font-weight:normal;color:#111;transform:scaleX(0.9847)">通性嫌気性菌</div>
<div class="tx" id="t32" style="left:251.4px;top:892.3px;line-height:18.6px;font-size:12.6px;font-weight:normal;color:#102238;transform:scaleX(1.0138)">インフルエンザ菌<span class="l">(H.influenzae)</span></div>
<div class="tx" id="t33" style="left:477.5px;top:990.7px;line-height:18.6px;font-size:12.6px;font-weight:normal;color:#1e2a30;transform:scaleX(1.0163)">バクテロイデス属<span class="l">(Bacteroides)</span></div>
<div class="tx" id="t34" style="left:548.7px;top:1013.2px;line-height:18px;font-size:12px;font-weight:normal;color:#111;transform:scaleX(0.9819)">偏性嫌気性菌</div>
<div class="tx" id="t35" style="left:276.7px;top:1011.1px;line-height:18.6px;font-size:12.6px;font-weight:normal;color:#1e2a30;transform:scaleX(1.0200)">バクテロイデス<span class="l">(B.biacutis)</span></div>
<div class="tx" id="t36" style="left:293.4px;top:1039.0px;line-height:18.6px;font-size:12.6px;font-weight:normal;color:#1e2a30;transform:scaleX(1.0101)">フラジリス菌<span class="l">(B. fragilis)</span></div>
<div class="tx" id="t37" style="left:460.2px;top:1129.9px;line-height:18.6px;font-size:12.6px;font-weight:normal;color:#222018;transform:scaleX(1.0255)">カンピロバクター属<span class="l">(Campylobacter)</span></div>
<div class="tx" id="t38" style="left:545.3px;top:1152.3px;line-height:18px;font-size:12px;font-weight:normal;color:#111;transform:scaleX(0.9900)">微好気性菌</div>
<div class="tx" id="t39" style="left:161.0px;top:1066.8px;line-height:18.6px;font-size:12.6px;font-weight:normal;color:#222018;transform:scaleX(1.0295)">カンピロバクター・ジェジュニ<span class="l">(C.jejuni)</span></div>
<div class="tx" id="t40" style="left:234.1px;top:1094.9px;line-height:18.6px;font-size:12.6px;font-weight:normal;color:#222018;transform:scaleX(1.0191)">カンピロバクター・コリ<span class="l">(C.coli)</span></div>
<div class="tx" id="t41" style="left:197.5px;top:1192.5px;line-height:18.6px;font-size:12.6px;font-weight:normal;color:#222018;transform:scaleX(1.0218)">カンピロバクター・フェタス<span class="l">(C.fetus)</span></div>
<div class="tx" id="t42" style="left:491.5px;top:1221.2px;line-height:18.6px;font-size:12.6px;font-weight:normal;color:#222018;transform:scaleX(1.0154)">ヘリコバクター属<span class="l">(Helicobacter)</span></div>
<div class="tx" id="t43" style="left:561.4px;top:1243.2px;line-height:18px;font-size:12px;font-weight:normal;color:#111;transform:scaleX(0.9817)">微好気性菌</div>
<div class="tx" id="t44" style="left:263.2px;top:1221.2px;line-height:18.6px;font-size:12.6px;font-weight:normal;color:#222018;transform:scaleX(1.0275)">ヘリコバクターピロリ<span class="l">(H.pylori)</span></div>
<div class="tx" id="t45" style="left:471.2px;top:1301.4px;line-height:18.6px;font-size:12.6px;font-weight:bold;-webkit-text-stroke:0;color:#2a0404;transform:scaleX(1.0391)">シュードモナス属<span class="l">(Pseudomonas)</span></div>
<div class="tx" id="t46" style="left:545.5px;top:1324.6px;line-height:18px;font-size:12px;font-weight:normal;color:#111;transform:scaleX(0.9875)">偏性好気性菌</div>
<div class="tx" id="t47" style="left:186.0px;top:1333.7px;line-height:18.6px;font-size:12.6px;font-weight:bold;-webkit-text-stroke:0;color:#2a0404;transform:scaleX(1.0391)">緑膿菌<span class="l">(Pseudomonas aeruginosa)</span></div>
<div class="tx" id="t48" style="left:537.2px;top:1361.4px;line-height:18.6px;font-size:12.6px;font-weight:bold;-webkit-text-stroke:0;color:#2a0404;transform:scaleX(1.0318)">ブルセラ属<span class="l">(Brucella)</span></div>
<div class="tx" id="t49" style="left:518.0px;top:1384.0px;line-height:18px;font-size:12px;font-weight:normal;color:#111;transform:scaleX(0.9934)">偏性好気性菌<span class="l">, </span>通性細胞内寄生菌</div>
<div class="tx" id="t50" style="left:523.1px;top:1421.7px;line-height:18.6px;font-size:12.6px;font-weight:bold;-webkit-text-stroke:0;color:#2a0404;transform:scaleX(1.0265)">レジオネラ属<span class="l">(Legionella)</span></div>
<div class="tx" id="t51" style="left:518.0px;top:1444.3px;line-height:18px;font-size:12px;font-weight:normal;color:#111;transform:scaleX(0.9934)">偏性好気性菌<span class="l">, </span>通性細胞内寄生菌</div>
<div class="tx" id="t52" style="left:249.4px;top:1410.5px;line-height:18.6px;font-size:12.6px;font-weight:bold;-webkit-text-stroke:0;color:#2a0404;transform:scaleX(1.0355)">レジオネラ肺炎菌<span class="l">(L.pneumophlla)</span></div>
<div class="tx" id="t53" style="left:328.2px;top:1433.5px;line-height:18px;font-size:12px;font-weight:normal;color:#111;transform:scaleX(0.9881)">グラム染色困難</div>
<div class="tx" id="t54" style="left:524.5px;top:1470.7px;line-height:18.6px;font-size:12.6px;font-weight:bold;-webkit-text-stroke:0;color:#2a0404;transform:scaleX(1.0398)">ボルデテラ属<span class="l">(Bordetella)</span></div>
<div class="tx" id="t55" style="left:571.6px;top:1493.5px;line-height:18px;font-size:12px;font-weight:normal;color:#111;transform:scaleX(0.9778)">偏性好気性菌</div>
<div class="tx" id="t56" style="left:329.6px;top:1470.7px;line-height:18.6px;font-size:12.6px;font-weight:bold;-webkit-text-stroke:0;color:#2a0404;transform:scaleX(1.0214)">百日咳菌<span class="l">(B.pertussis)</span></div>
<div class="tx" id="t57" style="left:669.0px;top:1587.0px;line-height:18.6px;font-size:12.6px;font-weight:normal;color:#1e2a30;transform:scaleX(1.0256)">スピロヘータ</div>
<div class="tx" id="t58" style="left:448.2px;top:1520.1px;line-height:18.6px;font-size:12.6px;font-weight:normal;color:#1e2a30;transform:scaleX(1.0194)">トレポネーマ属<span class="l">(Treponemma)</span></div>
<div class="tx" id="t59" style="left:507.4px;top:1542.1px;line-height:18px;font-size:12px;font-weight:normal;color:#111;transform:scaleX(0.9833)">偏性嫌気性菌</div>
<div class="tx" id="t60" style="left:229.2px;top:1520.1px;line-height:18.6px;font-size:12.6px;font-weight:normal;color:#222;transform:scaleX(1.0373)">梅毒トレポネーマ<span class="l">(T.pallidum)</span></div>
<div class="tx" id="t61" style="left:508.0px;top:1583.5px;line-height:18.6px;font-size:12.6px;font-weight:normal;color:#1e2a30;transform:scaleX(1.0207)">ボレリア属<span class="l">(Borrelia)</span></div>
<div class="tx" id="t62" style="left:537.2px;top:1605.3px;line-height:18px;font-size:12px;font-weight:normal;color:#111;transform:scaleX(0.9917)">偏性嫌気性菌</div>
<div class="tx" id="t63" style="left:267.6px;top:1568.5px;line-height:18.6px;font-size:12.6px;font-weight:normal;color:#222;transform:scaleX(1.0277)">ライム病ボレリア<span class="l">(B.burgdorfieri)</span></div>
<div class="tx" id="t64" style="left:286.8px;top:1596.3px;line-height:18.6px;font-size:12.6px;font-weight:normal;color:#222;transform:scaleX(1.0245)">回帰熱ボレリア<span class="l">(B.recurrentis)</span></div>
<div class="tx" id="t65" style="left:467.0px;top:1632.3px;line-height:18.6px;font-size:12.6px;font-weight:normal;color:#1e2a30;transform:scaleX(1.0066)">レピトスピラ属<span class="l">(Lestospira)</span></div>
<div class="tx" id="t66" style="left:516.4px;top:1654.1px;line-height:18px;font-size:12px;font-weight:normal;color:#111;transform:scaleX(0.9833)">偏性嫌気性菌</div>
<div class="tx" id="t67" style="left:190.8px;top:1631.5px;line-height:18.6px;font-size:12.6px;font-weight:normal;color:#222;transform:scaleX(1.0243)">黄疸出血性レプトスピラ<span class="l">(L.interrogans)</span></div>
<div class="tx" id="t68" style="left:1103.6px;top:834.5px;line-height:23px;font-size:17px;font-weight:normal;color:#3a3a3a;transform:scaleX(1.0196)">グラム陽性菌</div>
<div class="tx" id="t69" style="left:1260.8px;top:579.7px;line-height:19px;font-size:13px;font-weight:normal;color:#222;transform:scaleX(0.9846)">球菌</div>
<div class="tx" id="t70" style="left:1319.4px;top:420.4px;line-height:18.6px;font-size:12.6px;font-weight:normal;color:#102238;transform:scaleX(1.0063)">ブドウ球菌属<span class="l">(Staphylococcus)</span></div>
<div class="tx" id="t71" style="left:1379.6px;top:442.9px;line-height:18px;font-size:12px;font-weight:normal;color:#111;transform:scaleX(0.9833)">通性嫌気性菌</div>
<div class="tx" id="t72" style="left:1542.2px;top:406.8px;line-height:18.6px;font-size:12.6px;font-weight:normal;color:#102238;transform:scaleX(1.0132)">黄色ブドウ球菌<span class="l">(Staphyloccus aureus)</span></div>
<div class="tx" id="t73" style="left:1542.2px;top:434.5px;line-height:18.6px;font-size:12.6px;font-weight:normal;color:#102238;transform:scaleX(1.0158)">表皮ブドウ球菌<span class="l">(Staphyloccus epidermidis)</span></div>
<div class="tx" id="t74" style="left:1319.4px;top:586.8px;line-height:18.6px;font-size:12.6px;font-weight:normal;color:#102238;transform:scaleX(1.0012)">レンサ球菌属<span class="l">(Streptococcus)</span></div>
<div class="tx" id="t75" style="left:1383.8px;top:609.3px;line-height:18px;font-size:12px;font-weight:normal;color:#111;transform:scaleX(0.9750)">通性嫌気性菌</div>
<div class="tx" id="t76" style="left:1550.2px;top:521.7px;line-height:18.6px;font-size:12.6px;font-weight:normal;color:#102238;transform:scaleX(1.0170)">化膿レンサ球菌<span class="l">(Streptococcus pyogenes)</span></div>
<div class="tx" id="t77" style="left:1550.2px;top:603.3px;line-height:18.6px;font-size:12.6px;font-weight:normal;color:#102238;transform:scaleX(1.0119)"><span class="l">B</span>郡レンサ球菌<span class="l">((Group B Streptococcus)</span></div>
<div class="tx" id="t78" style="left:1550.2px;top:682.7px;line-height:18.6px;font-size:12.6px;font-weight:normal;color:#222018;transform:scaleX(1.0215)">肺炎球菌<span class="l">(Streptococcus pneumoniae)</span></div>
<div class="tx" id="t79" style="left:1632.4px;top:705.3px;line-height:18px;font-size:12px;font-weight:normal;color:#111;transform:scaleX(0.9875)">酸素耐性嫌気性菌</div>
<div class="tx" id="t80" style="left:1319.4px;top:731.8px;line-height:18.6px;font-size:12.6px;font-weight:normal;color:#102238;transform:scaleX(1.0081)">腸球菌<span class="l">(Enterococcus)</span></div>
<div class="tx" id="t81" style="left:1352.4px;top:754.6px;line-height:18px;font-size:12px;font-weight:normal;color:#111;transform:scaleX(0.9889)">通性嫌気性菌</div>
<div class="tx" id="t82" style="left:1261.0px;top:948.8px;line-height:19px;font-size:13px;font-weight:normal;color:#222;transform:scaleX(0.9808)">桿菌</div>
<div class="tx" id="t83" style="left:1335.4px;top:780.8px;line-height:18.6px;font-size:12.6px;font-weight:normal;color:#102238;transform:scaleX(1.0029)">リステリア属<span class="l">(Listeria)</span></div>
<div class="tx" id="t84" style="left:1316.6px;top:803.4px;line-height:18px;font-size:12px;font-weight:normal;color:#111;transform:scaleX(0.9905)">通性嫌気性菌<span class="l">, </span>通性細胞内寄生菌</div>
<div class="tx" id="t85" style="left:1509.2px;top:780.8px;line-height:18.6px;font-size:12.6px;font-weight:normal;color:#102238;transform:scaleX(1.0158)">リステリア菌<span class="l">(L.monocytogeness)</span></div>
<div class="tx" id="t86" style="left:1319.4px;top:843.8px;line-height:18.6px;font-size:12.6px;font-weight:normal;color:#102238;transform:scaleX(1.0232)">コリネバクテリウム属<span class="l">(Corynrbacterium)</span></div>
<div class="tx" id="t87" style="left:1419.6px;top:866.3px;line-height:18px;font-size:12px;font-weight:normal;color:#111;transform:scaleX(0.9833)">通性嫌気性菌</div>
<div class="tx" id="t88" style="left:1623.4px;top:829.9px;line-height:18.6px;font-size:12.6px;font-weight:normal;color:#102238;transform:scaleX(1.0182)">ジフテリア菌<span class="l">(C.diphtheriae)</span></div>
<div class="tx" id="t89" style="left:1623.4px;top:857.6px;line-height:18.6px;font-size:12.6px;font-weight:normal;color:#102238;transform:scaleX(1.0296)">偽ジフテリア菌<span class="l">(C.pseudodiphtheriticum)</span></div>
<div class="tx" id="t90" style="left:1319.2px;top:948.5px;line-height:18.6px;font-size:12.6px;font-weight:normal;color:#1e2a30;transform:scaleX(1.0246)">クロストリジウム属<span class="l">(Clostridium)</span></div>
<div class="tx" id="t91" style="left:1395.0px;top:971.1px;line-height:18px;font-size:12px;font-weight:normal;color:#111;transform:scaleX(0.9944)">偏性嫌気性菌</div>
<div class="tx" id="t92" style="left:1575.4px;top:893.2px;line-height:18.6px;font-size:12.6px;font-weight:normal;color:#1e2a30;transform:scaleX(1.0186)">破傷風菌<span class="l">(C.tetani)</span></div>
<div class="tx" id="t93" style="left:1575.4px;top:921.0px;line-height:18.6px;font-size:12.6px;font-weight:normal;color:#1e2a30;transform:scaleX(1.0375)">ボツリヌス菌<span class="l">(C.botulinum)</span></div>
<div class="tx" id="t94" style="left:1575.4px;top:949.0px;line-height:18.6px;font-size:12.6px;font-weight:normal;color:#1e2a30;transform:scaleX(1.0120)">ウェルシュ菌<span class="l">(C.perfringens)</span></div>
<div class="tx" id="t95" style="left:1575.4px;top:977.0px;line-height:18.6px;font-size:12.6px;font-weight:normal;color:#1e2a30;transform:scaleX(1.0065)">ディフィシル菌<span class="l">(C.difficile)</span></div>
<div class="tx" id="t96" style="left:1575.4px;top:1005.0px;line-height:18.6px;font-size:12.6px;font-weight:normal;color:#1e2a30;transform:scaleX(1.0115)">ガス壊疽菌群</div>
<div class="tx" id="t97" style="left:1319.2px;top:1074.8px;line-height:18.6px;font-size:12.6px;font-weight:bold;-webkit-text-stroke:0;color:#2a0404;transform:scaleX(1.0253)">バシラス属<span class="l">(Bacillus)</span></div>
<div class="tx" id="t98" style="left:1360.0px;top:1097.0px;line-height:18px;font-size:12px;font-weight:normal;color:#111;transform:scaleX(0.9944)">偏性好気性菌</div>
<div class="tx" id="t99" style="left:1503.8px;top:1032.9px;line-height:18.6px;font-size:12.6px;font-weight:bold;-webkit-text-stroke:0;color:#2a0404;transform:scaleX(1.0502)">炭疽菌<span class="l">(B.anthracis)</span></div>
<div class="tx" id="t100" style="left:1503.8px;top:1060.9px;line-height:18.6px;font-size:12.6px;font-weight:bold;-webkit-text-stroke:0;color:#2a0404;transform:scaleX(1.0391)">セレウス菌<span class="l">(B.cereus)</span></div>
<div class="tx" id="t101" style="left:1503.8px;top:1088.8px;line-height:18.6px;font-size:12.6px;font-weight:bold;-webkit-text-stroke:0;color:#2a0404;transform:scaleX(1.0359)">枯草菌<span class="l">(B.subtilis)</span></div>
<div class="tx" id="t102" style="left:1503.8px;top:1116.8px;line-height:18.6px;font-size:12.6px;font-weight:bold;-webkit-text-stroke:0;color:#2a0404;transform:scaleX(1.0341)">卒倒病菌<span class="l">(B. thuringiensis)</span></div>
<div class="tx" id="t103" style="left:1260.5px;top:1204.8px;line-height:19px;font-size:13px;font-weight:normal;color:#222;transform:scaleX(0.9923)">不定型</div>
<div class="tx" id="t104" style="left:1332.4px;top:1204.5px;line-height:18.6px;font-size:12.6px;font-weight:bold;-webkit-text-stroke:0;color:#2a0404;transform:scaleX(1.0406)">マイコバクテリウム属<span class="l">(Mycobacterium)</span></div>
<div class="tx" id="t105" style="left:1372.0px;top:1227.1px;line-height:18px;font-size:12px;font-weight:normal;color:#111;transform:scaleX(0.9956)">偏性好気性菌<span class="l">, </span>通性細胞内寄生菌</div>
<div class="tx" id="t106" style="left:1619.2px;top:1144.5px;line-height:18.6px;font-size:12.6px;font-weight:bold;-webkit-text-stroke:0;color:#2a0404;transform:scaleX(1.0244)">ヒト型結核菌<span class="l">(M.tuberculosis)</span></div>
<div class="tx" id="t107" style="left:1699.4px;top:1167.3px;line-height:18px;font-size:12px;font-weight:normal;color:#111;transform:scaleX(0.9694)">抗酸菌</div>
<div class="tx" id="t108" style="left:1619.2px;top:1193.9px;line-height:18.6px;font-size:12.6px;font-weight:bold;-webkit-text-stroke:0;color:#2a0404;transform:scaleX(1.0310)">ウシ型結核菌<span class="l">(M. bovis)</span></div>
<div class="tx" id="t109" style="left:1677.4px;top:1216.5px;line-height:18px;font-size:12px;font-weight:normal;color:#111;transform:scaleX(0.9694)">抗酸菌</div>
<div class="tx" id="t110" style="left:1619.2px;top:1242.6px;line-height:18.6px;font-size:12.6px;font-weight:bold;-webkit-text-stroke:0;color:#2a0404;transform:scaleX(1.0475)">ライ菌<span class="l">(M. leprae)</span></div>
<div class="tx" id="t111" style="left:1660.7px;top:1265.3px;line-height:18px;font-size:12px;font-weight:normal;color:#111;transform:scaleX(0.9694)">抗酸菌</div>
<div class="tx" id="t112" style="left:1064.6px;top:1420.9px;line-height:23px;font-size:17px;font-weight:normal;color:#333;transform:scaleX(0.9961)">不定型</div>
<div class="tx" id="t113" style="left:1150.4px;top:1311.4px;line-height:18.6px;font-size:12.6px;font-weight:normal;color:#222;transform:scaleX(1.0202)">マイコプラズマ属<span class="l">(Mycoplasma)</span></div>
<div class="tx" id="t114" style="left:1381.1px;top:1311.4px;line-height:18.6px;font-size:12.6px;font-weight:normal;color:#222;transform:scaleX(1.0271)">肺炎マイコプラズマ<span class="l">(M.pneumoniae)</span></div>
<div class="tx" id="t115" style="left:1149.8px;top:1338.8px;line-height:18.6px;font-size:12.6px;font-weight:normal;color:#222;transform:scaleX(1.0194)">ウレアプラズマ属<span class="l">(Ureaplasma)</span></div>
<div class="tx" id="t116" style="left:1154.1px;top:1394.5px;line-height:18.6px;font-size:12.6px;font-weight:normal;color:#1e2a30;transform:scaleX(1.0225)">クラミジア属<span class="l">(Chlamydia)</span></div>
<div class="tx" id="t117" style="left:1147.3px;top:1417.3px;line-height:18px;font-size:12px;font-weight:normal;color:#111;transform:scaleX(0.9922)">偏性嫌気性菌<span class="l">, </span>偏性細胞内寄生菌</div>
<div class="tx" id="t118" style="left:1346.7px;top:1366.8px;line-height:18.6px;font-size:12.6px;font-weight:normal;color:#1e2a30;transform:scaleX(1.0247)">クラミジア・トラコマチス<span class="l">(C.trachomatis)</span></div>
<div class="tx" id="t119" style="left:1346.7px;top:1394.9px;line-height:18.6px;font-size:12.6px;font-weight:normal;color:#1e2a30;transform:scaleX(1.0186)">オウム病クラミジア<span class="l">(C.psttaci)</span></div>
<div class="tx" id="t120" style="left:1346.7px;top:1422.9px;line-height:18.6px;font-size:12.6px;font-weight:normal;color:#1e2a30;transform:scaleX(1.0258)">肺炎クラミジア<span class="l">(C.pneumoniae)</span></div>
<div class="tx" id="t121" style="left:1154.1px;top:1492.6px;line-height:18.6px;font-size:12.6px;font-weight:normal;color:#1e2a30;transform:scaleX(0.9976)">リケッチア属<span class="l">(Rickettsiae)</span></div>
<div class="tx" id="t122" style="left:1147.3px;top:1515.3px;line-height:18px;font-size:12px;font-weight:normal;color:#111;transform:scaleX(0.9922)">偏性嫌気性菌<span class="l">, </span>偏性細胞内寄生菌</div>
<div class="tx" id="t123" style="left:1346.7px;top:1451.2px;line-height:18.6px;font-size:12.6px;font-weight:normal;color:#1e2a30;transform:scaleX(1.0179)">発疹チフス<span class="l">(R.prowazekii)</span></div>
<div class="tx" id="t124" style="left:1346.7px;top:1479.0px;line-height:18.6px;font-size:12.6px;font-weight:normal;color:#1e2a30;transform:scaleX(1.0124)">ロッキー山紅斑病<span class="l">(R.rickettsi)</span></div>
<div class="tx" id="t125" style="left:1346.7px;top:1506.8px;line-height:18.6px;font-size:12.6px;font-weight:normal;color:#1e2a30;transform:scaleX(1.0028)">日本紅斑病<span class="l">(R.japonica)</span></div>
<div class="tx" id="t126" style="left:1346.7px;top:1534.6px;line-height:18.6px;font-size:12.6px;font-weight:normal;color:#1e2a30;transform:scaleX(1.0221)">ツツガムシ病<span class="l">(R.tsutsugamushi)</span></div>
<div class="tx" id="t127" style="left:980.8px;top:891.8px;line-height:28px;font-size:22px;font-weight:bold;-webkit-text-stroke:0;color:#3a4654;transform:scaleX(1.0818)">細菌</div>
<script>(function(){var W={t1:104.0,t2:25.2,t3:150.5,t4:58.8,t5:184.4,t6:205.7,t7:153.6,t8:59.3,t9:307.0,t10:25.9,t11:204.0,t12:71.3,t13:162.2,t14:219.2,t15:113.7,t16:162.3,t17:115.0,t18:197.1,t19:137.2,t20:150.5,t21:115.0,t22:101.8,t23:95.0,t24:140.5,t25:71.0,t26:113.3,t27:175.0,t28:161.1,t29:248.2,t30:189.7,t31:70.9,t32:197.7,t33:193.7,t34:70.7,t35:168.1,t36:151.4,t37:229.3,t38:59.4,t39:248.5,t40:193.7,t41:230.3,t42:198.0,t43:58.9,t44:195.3,t45:218.4,t46:71.1,t47:234.6,t48:136.3,t49:175.3,t50:163.7,t51:175.3,t52:223.1,t53:83.0,t54:165.1,t55:70.4,t56:143.7,t57:80.0,t58:188.2,t59:70.8,t60:186.6,t61:128.4,t62:71.4,t63:208.0,t64:188.8,t65:169.4,t66:70.8,t67:244.2,t68:104.0,t69:25.6,t70:190.2,t71:70.8,t72:238.3,t73:269.8,t74:179.9,t75:70.2,t76:263.3,t77:254.7,t78:241.5,t79:94.8,t80:137.4,t81:71.2,t82:25.5,t83:136.4,t84:174.8,t85:211.6,t86:252.5,t87:70.8,t88:178.0,t89:260.8,t90:205.0,t91:71.6,t92:114.9,t93:171.5,t94:177.6,t95:163.0,t96:78.9,t97:134.0,t98:71.6,t99:134.1,t100:140.9,t101:119.0,t102:177.6,t103:38.7,t104:254.2,t105:175.7,t106:194.3,t107:34.9,t108:150.3,t109:34.9,t110:117.2,t111:34.9,t112:50.8,t113:197.8,t114:227.3,t115:194.8,t116:159.3,t117:175.1,t118:261.9,t119:187.7,t120:198.9,t121:159.3,t122:175.1,t123:160.9,t124:181.6,t125:144.1,t126:199.8,t127:47.6};var ks=Object.keys(W),els=[],ws=[];ks.forEach(function(k){var e=document.getElementById(k);if(e){e.style.transform="none";els.push([e,W[k]]);}});els.forEach(function(p){var r=document.createRange();r.selectNodeContents(p[0]);ws.push(r.getBoundingClientRect().width);});els.forEach(function(p,i){if(ws[i]>0)p[0].style.transform="scaleX("+(p[1]/ws[i]).toFixed(4)+")";});})();</script>
</body></html>
